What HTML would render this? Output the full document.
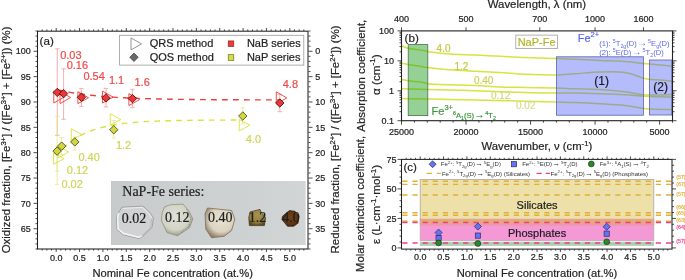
<!DOCTYPE html>
<html><head><meta charset="utf-8"><style>
html,body{margin:0;padding:0;background:#fff;width:685px;height:280px;overflow:hidden;}
svg{display:block;will-change:transform;font-family:"Liberation Sans",sans-serif;}
</style></head><body>
<svg xmlns="http://www.w3.org/2000/svg" width="685" height="280" viewBox="0 0 685 280">
<rect width="685" height="280" fill="#fff"/>
<rect x="111" y="181" width="194.5" height="64" fill="#cdd0d1"/>
<rect x="111" y="181" width="194.5" height="64" fill="url(#photoGrad)"/>
<defs><radialGradient id="g2" cx="0.45" cy="0.4" r="0.6"><stop offset="0" stop-color="#e0e1d8"/><stop offset="0.7" stop-color="#d3d4c6"/><stop offset="1" stop-color="#9c9a88"/></radialGradient><radialGradient id="g3" cx="0.55" cy="0.4" r="0.62"><stop offset="0" stop-color="#e8e2d2"/><stop offset="0.65" stop-color="#dcd4c0"/><stop offset="1" stop-color="#8e8068"/></radialGradient><radialGradient id="g4" cx="0.5" cy="0.35" r="0.65"><stop offset="0" stop-color="#a8924e"/><stop offset="0.7" stop-color="#937d3e"/><stop offset="1" stop-color="#5a4820"/></radialGradient><radialGradient id="g5" cx="0.5" cy="0.45" r="0.62"><stop offset="0" stop-color="#70421a"/><stop offset="0.7" stop-color="#5c3414"/><stop offset="1" stop-color="#331a08"/></radialGradient></defs>
<polygon points="122.1,207.2 143,206.1 149.4,212 153.4,217.7 152.1,227.3 142.2,237 138.9,238.6 122.9,234.6 117.2,229.7 116.4,217.7 118.8,212" fill="#d0d2d3" stroke="#8e9091" stroke-width="0.7"/>
<polyline points="118.6,213 117.6,218 118.2,229 123.5,233.4 138.6,237.2 141.6,236" fill="none" stroke="#f2f4f4" stroke-width="1.6" stroke-linejoin="round"/>
<polyline points="123,208.4 142.4,207.4 148.4,213 151.8,218" fill="none" stroke="#eceeee" stroke-width="1.0"/>
<polyline points="151.4,219 150.8,227 142,235.6" fill="none" stroke="#b4b6b7" stroke-width="0.9"/>
<polygon points="164.6,206.8 170.3,204.8 183.1,204.1 188.8,210.9 192.8,218.9 189.6,227.7 177.5,235.8 167,232.6 161.4,220.5 162.2,212.5" fill="url(#g2)" stroke="#8c8a72" stroke-width="0.7"/>
<polyline points="186.5,209 191,219 188.6,226.5 180,233" fill="none" stroke="#6e6a50" stroke-width="0.8" stroke-dasharray="1.5 1.2" opacity="0.7"/>
<polygon points="207.5,208 231.6,210.5 234.8,219.3 231.6,230.5 224.3,236.2 211.5,237.8 205.8,229 205,213.7" fill="url(#g3)" stroke="#7e705a" stroke-width="0.8"/>
<polygon points="250,211.9 260,209.4 261.25,212.5 265.6,217.5 264.4,225.6 249.4,225.6 248.75,217.5" fill="url(#g4)" stroke="#3e3018" stroke-width="0.7"/>
<polygon points="282.5,216.25 289.4,210.6 295,211.25 298.75,216.25 298.1,223.1 293.75,226.25 287.5,226.25 281.9,219.4" fill="url(#g5)" stroke="#2e1808" stroke-width="0.7"/>
<text x="122.3" y="195.7" font-family="Liberation Serif" font-size="14" fill="#1e1e1e" stroke="#1e1e1e" stroke-width="0.2" text-anchor="start" >NaP-Fe series:</text>
<text x="134.1" y="222.7" font-family="Liberation Serif" font-size="14" fill="#1e1e1e" stroke="#1e1e1e" stroke-width="0.2" text-anchor="middle" >0.02</text>
<text x="177.3" y="222.1" font-family="Liberation Serif" font-size="14" fill="#1e1e1e" stroke="#1e1e1e" stroke-width="0.2" text-anchor="middle" >0.12</text>
<text x="220.3" y="221.7" font-family="Liberation Serif" font-size="14" fill="#1e1e1e" stroke="#1e1e1e" stroke-width="0.2" text-anchor="middle" >0.40</text>
<text x="257.5" y="221.9" font-family="Liberation Serif" font-size="14" fill="#1e1e1e" stroke="#1e1e1e" stroke-width="0.2" text-anchor="middle" >1.2</text>
<text x="290.9" y="221.9" font-family="Liberation Serif" font-size="14" fill="#1e1e1e" stroke="#1e1e1e" stroke-width="0.2" text-anchor="middle" >4.0</text>
<rect x="119.6" y="35.3" width="184.2" height="29.8" fill="#fff" stroke="#9a9a9a" stroke-width="0.8"/>
<polygon points="131,37.9 141.5,43.9 131,49.9" fill="#fff" stroke="#8a8a8a" stroke-width="0.9"/>
<polygon points="134,53.1 138.2,57.3 134,61.5 129.8,57.3" fill="#6a6a6a" stroke="#444" stroke-width="0.8"/>
<text x="149.7" y="47.2" font-family="Liberation Sans" font-size="11" fill="#222" stroke="#222" stroke-width="0.2" text-anchor="start" >QRS method</text>
<text x="149.7" y="61.2" font-family="Liberation Sans" font-size="11" fill="#222" stroke="#222" stroke-width="0.2" text-anchor="start" >QOS method</text>
<rect x="228.2" y="40.9" width="5.6" height="5.7" fill="#ef3a3a" stroke="#7a2020" stroke-width="0.6"/>
<rect x="228.2" y="54.7" width="5.6" height="5.7" fill="#d6dc3a" stroke="#5a5a20" stroke-width="0.6"/>
<text x="246.9" y="47" font-family="Liberation Sans" font-size="11" fill="#222" stroke="#222" stroke-width="0.2" text-anchor="start" >NaB series</text>
<text x="246.9" y="61" font-family="Liberation Sans" font-size="11" fill="#222" stroke="#222" stroke-width="0.2" text-anchor="start" >NaP series</text>
<line x1="57.3" y1="48.8" x2="57.3" y2="135.3" stroke="#f59a9a" stroke-width="0.8" />
<line x1="55.1" y1="48.8" x2="59.5" y2="48.8" stroke="#f59a9a" stroke-width="0.8" />
<line x1="55.1" y1="135.3" x2="59.5" y2="135.3" stroke="#f59a9a" stroke-width="0.8" />
<line x1="63.6" y1="68.8" x2="63.6" y2="119.3" stroke="#f59a9a" stroke-width="0.8" />
<line x1="61.4" y1="68.8" x2="65.8" y2="68.8" stroke="#f59a9a" stroke-width="0.8" />
<line x1="61.4" y1="119.3" x2="65.8" y2="119.3" stroke="#f59a9a" stroke-width="0.8" />
<line x1="81.4" y1="88.6" x2="81.4" y2="106.4" stroke="#f59a9a" stroke-width="0.8" />
<line x1="79.2" y1="88.6" x2="83.6" y2="88.6" stroke="#f59a9a" stroke-width="0.8" />
<line x1="79.2" y1="106.4" x2="83.6" y2="106.4" stroke="#f59a9a" stroke-width="0.8" />
<line x1="106" y1="88.4" x2="106" y2="106.9" stroke="#f59a9a" stroke-width="0.8" />
<line x1="103.8" y1="88.4" x2="108.2" y2="88.4" stroke="#f59a9a" stroke-width="0.8" />
<line x1="103.8" y1="106.9" x2="108.2" y2="106.9" stroke="#f59a9a" stroke-width="0.8" />
<line x1="132.4" y1="89.3" x2="132.4" y2="107.6" stroke="#f59a9a" stroke-width="0.8" />
<line x1="130.2" y1="89.3" x2="134.6" y2="89.3" stroke="#f59a9a" stroke-width="0.8" />
<line x1="130.2" y1="107.6" x2="134.6" y2="107.6" stroke="#f59a9a" stroke-width="0.8" />
<line x1="279.8" y1="94.3" x2="279.8" y2="111.7" stroke="#f59a9a" stroke-width="0.8" />
<line x1="277.6" y1="94.3" x2="282" y2="94.3" stroke="#f59a9a" stroke-width="0.8" />
<line x1="277.6" y1="111.7" x2="282" y2="111.7" stroke="#f59a9a" stroke-width="0.8" />
<line x1="57.1" y1="116.4" x2="57.1" y2="184.6" stroke="#e4e88c" stroke-width="0.8" />
<line x1="54.9" y1="116.4" x2="59.3" y2="116.4" stroke="#e4e88c" stroke-width="0.8" />
<line x1="54.9" y1="184.6" x2="59.3" y2="184.6" stroke="#e4e88c" stroke-width="0.8" />
<line x1="57.1" y1="146" x2="57.1" y2="171.25" stroke="#e4e88c" stroke-width="0.8" />
<line x1="54.9" y1="146" x2="59.3" y2="146" stroke="#e4e88c" stroke-width="0.8" />
<line x1="54.9" y1="171.25" x2="59.3" y2="171.25" stroke="#e4e88c" stroke-width="0.8" />
<line x1="61.7" y1="137.6" x2="61.7" y2="154.6" stroke="#e4e88c" stroke-width="0.8" />
<line x1="59.5" y1="137.6" x2="63.9" y2="137.6" stroke="#e4e88c" stroke-width="0.8" />
<line x1="59.5" y1="154.6" x2="63.9" y2="154.6" stroke="#e4e88c" stroke-width="0.8" />
<line x1="74.8" y1="136.9" x2="74.8" y2="150" stroke="#e4e88c" stroke-width="0.8" />
<line x1="72.6" y1="136.9" x2="77" y2="136.9" stroke="#e4e88c" stroke-width="0.8" />
<line x1="72.6" y1="150" x2="77" y2="150" stroke="#e4e88c" stroke-width="0.8" />
<line x1="113.75" y1="120.6" x2="113.75" y2="138" stroke="#e4e88c" stroke-width="0.8" />
<line x1="111.55" y1="120.6" x2="115.95" y2="120.6" stroke="#e4e88c" stroke-width="0.8" />
<line x1="111.55" y1="138" x2="115.95" y2="138" stroke="#e4e88c" stroke-width="0.8" />
<line x1="242.8" y1="107.8" x2="242.8" y2="124" stroke="#e4e88c" stroke-width="0.8" />
<line x1="240.6" y1="107.8" x2="245" y2="107.8" stroke="#e4e88c" stroke-width="0.8" />
<line x1="240.6" y1="124" x2="245" y2="124" stroke="#e4e88c" stroke-width="0.8" />
<path d="M57.59,89.74 L60.38,90.39 L63.16,90.99 L65.95,91.55 L68.74,92.08 L71.52,92.57 L74.31,93.04 L77.09,93.47 L79.88,93.88 L82.66,94.26 L85.45,94.62 L88.24,94.96 L91.02,95.27 L93.81,95.56 L96.59,95.84 L99.38,96.1 L102.17,96.34 L104.95,96.57 L107.74,96.78 L110.52,96.98 L113.31,97.17 L116.1,97.34 L118.88,97.51 L121.67,97.66 L124.45,97.8 L127.24,97.94 L130.03,98.07 L132.81,98.18 L135.6,98.29 L138.38,98.4 L141.17,98.5 L143.96,98.59 L146.74,98.67 L149.53,98.75 L152.31,98.83 L155.1,98.9 L157.88,98.97 L160.67,99.03 L163.46,99.09 L166.24,99.14 L169.03,99.19 L171.81,99.24 L174.6,99.28 L177.39,99.32 L180.17,99.36 L182.96,99.4 L185.74,99.44 L188.53,99.47 L191.32,99.5 L194.1,99.53 L196.89,99.55 L199.67,99.58 L202.46,99.6 L205.25,99.62 L208.03,99.64 L210.82,99.66 L213.6,99.68 L216.39,99.7 L219.18,99.71 L221.96,99.73 L224.75,99.74 L227.53,99.76 L230.32,99.77 L233.1,99.78 L235.89,99.79 L238.68,99.8 L241.46,99.81 L244.25,99.82 L247.03,99.83 L249.82,99.83 L252.61,99.84 L255.39,99.85 L258.18,99.85 L260.96,99.86 L263.75,99.87 L266.54,99.87 L269.32,99.88 L272.11,99.88 L274.89,99.88 L277.68,99.89 L280.47,99.89" fill="none" stroke="#f03c3c" stroke-width="1.4" stroke-dasharray="5.8 5.2"/>
<path d="M57.12,154.64 L59.45,151.99 L61.77,149.54 L64.1,147.28 L66.42,145.19 L68.75,143.26 L71.07,141.48 L73.4,139.83 L75.72,138.31 L78.04,136.91 L80.37,135.61 L82.69,134.42 L85.02,133.31 L87.34,132.29 L89.67,131.35 L91.99,130.48 L94.32,129.67 L96.64,128.93 L98.97,128.25 L101.29,127.61 L103.61,127.03 L105.94,126.49 L108.26,125.99 L110.59,125.53 L112.91,125.11 L115.24,124.71 L117.56,124.35 L119.89,124.02 L122.21,123.71 L124.54,123.42 L126.86,123.16 L129.18,122.91 L131.51,122.69 L133.83,122.48 L136.16,122.29 L138.48,122.11 L140.81,121.95 L143.13,121.8 L145.46,121.66 L147.78,121.53 L150.11,121.41 L152.43,121.3 L154.75,121.2 L157.08,121.11 L159.4,121.02 L161.73,120.94 L164.05,120.87 L166.38,120.8 L168.7,120.73 L171.03,120.68 L173.35,120.62 L175.67,120.57 L178,120.53 L180.32,120.48 L182.65,120.45 L184.97,120.41 L187.3,120.38 L189.62,120.35 L191.95,120.32 L194.27,120.29 L196.6,120.27 L198.92,120.24 L201.24,120.22 L203.57,120.2 L205.89,120.19 L208.22,120.17 L210.54,120.16 L212.87,120.14 L215.19,120.13 L217.52,120.12 L219.84,120.11 L222.17,120.1 L224.49,120.09 L226.81,120.08 L229.14,120.07 L231.46,120.06 L233.79,120.06 L236.11,120.05 L238.44,120.04 L240.76,120.04 L243.09,120.03" fill="none" stroke="#d9e23c" stroke-width="1.4" stroke-dasharray="5.6 5.3" stroke-dashoffset="2.7"/>
<polygon points="53.77,91 64.37,97 53.77,103" fill="none" stroke="#f03c3c" stroke-width="0.9"/>
<polygon points="60.07,91.5 70.67,97.5 60.07,103.5" fill="none" stroke="#f03c3c" stroke-width="0.9"/>
<polygon points="77.87,91.7 88.47,97.7 77.87,103.7" fill="none" stroke="#f03c3c" stroke-width="0.9"/>
<polygon points="102.47,91.1 113.07,97.1 102.47,103.1" fill="none" stroke="#f03c3c" stroke-width="0.9"/>
<polygon points="128.87,93.6 139.47,99.6 128.87,105.6" fill="none" stroke="#f03c3c" stroke-width="0.9"/>
<polygon points="276.27,91.9 286.87,97.9 276.27,103.9" fill="none" stroke="#f03c3c" stroke-width="0.9"/>
<polygon points="53.57,152.85 64.17,158.6 53.57,164.35" fill="none" stroke="#d9e23c" stroke-width="0.9"/>
<polygon points="58.17,146.25 68.77,152 58.17,157.75" fill="none" stroke="#d9e23c" stroke-width="0.9"/>
<polygon points="71.27,128.75 81.87,134.5 71.27,140.25" fill="none" stroke="#d9e23c" stroke-width="0.9"/>
<polygon points="110.22,113.75 120.82,119.5 110.22,125.25" fill="none" stroke="#d9e23c" stroke-width="0.9"/>
<polygon points="239.27,119.45 249.87,125.2 239.27,130.95" fill="none" stroke="#d9e23c" stroke-width="0.9"/>
<polygon points="57.3,88.2 61.5,92.4 57.3,96.6 53.1,92.4" fill="#ee3434" stroke="#3a0d0d" stroke-width="0.8"/>
<polygon points="63.6,89.4 67.8,93.6 63.6,97.8 59.4,93.6" fill="#ee3434" stroke="#3a0d0d" stroke-width="0.8"/>
<polygon points="81.4,93.1 85.6,97.3 81.4,101.5 77.2,97.3" fill="#ee3434" stroke="#3a0d0d" stroke-width="0.8"/>
<polygon points="106,93.7 110.2,97.9 106,102.1 101.8,97.9" fill="#ee3434" stroke="#3a0d0d" stroke-width="0.8"/>
<polygon points="132.4,94.4 136.6,98.6 132.4,102.8 128.2,98.6" fill="#ee3434" stroke="#3a0d0d" stroke-width="0.8"/>
<polygon points="279.8,98.8 284,103 279.8,107.2 275.6,103" fill="#ee3434" stroke="#3a0d0d" stroke-width="0.8"/>
<polygon points="57.1,146.9 61.3,151.1 57.1,155.3 52.9,151.1" fill="#d2d83c" stroke="#3a3a18" stroke-width="0.8"/>
<polygon points="61.7,141.9 65.9,146.1 61.7,150.3 57.5,146.1" fill="#d2d83c" stroke="#3a3a18" stroke-width="0.8"/>
<polygon points="74.8,137.7 79,141.9 74.8,146.1 70.6,141.9" fill="#d2d83c" stroke="#3a3a18" stroke-width="0.8"/>
<polygon points="113.75,125.55 117.95,129.75 113.75,133.95 109.55,129.75" fill="#d2d83c" stroke="#3a3a18" stroke-width="0.8"/>
<polygon points="242.8,111.8 247,116 242.8,120.2 238.6,116" fill="#d2d83c" stroke="#3a3a18" stroke-width="0.8"/>
<text x="60.2" y="58.6" font-family="Liberation Sans" font-size="11" fill="#f04848" stroke="#f04848" stroke-width="0.2" text-anchor="start" >0.03</text>
<text x="66.7" y="69" font-family="Liberation Sans" font-size="11" fill="#f04848" stroke="#f04848" stroke-width="0.2" text-anchor="start" >0.16</text>
<text x="83.4" y="79.8" font-family="Liberation Sans" font-size="11" fill="#f04848" stroke="#f04848" stroke-width="0.2" text-anchor="start" >0.54</text>
<text x="108.9" y="84" font-family="Liberation Sans" font-size="11" fill="#f04848" stroke="#f04848" stroke-width="0.2" text-anchor="start" >1.1</text>
<text x="134.5" y="85.5" font-family="Liberation Sans" font-size="11" fill="#f04848" stroke="#f04848" stroke-width="0.2" text-anchor="start" >1.6</text>
<text x="290.4" y="88" font-family="Liberation Sans" font-size="11" fill="#f04848" stroke="#f04848" stroke-width="0.2" text-anchor="middle" >4.8</text>
<text x="61.4" y="187.9" font-family="Liberation Sans" font-size="11" fill="#cfd456" stroke="#cfd456" stroke-width="0.2" text-anchor="start" >0.02</text>
<text x="66.8" y="174.1" font-family="Liberation Sans" font-size="11" fill="#cfd456" stroke="#cfd456" stroke-width="0.2" text-anchor="start" >0.12</text>
<text x="78.4" y="161.1" font-family="Liberation Sans" font-size="11" fill="#cfd456" stroke="#cfd456" stroke-width="0.2" text-anchor="start" >0.40</text>
<text x="123.6" y="148.6" font-family="Liberation Sans" font-size="11" fill="#cfd456" stroke="#cfd456" stroke-width="0.2" text-anchor="middle" >1.2</text>
<text x="253.4" y="142.7" font-family="Liberation Sans" font-size="11" fill="#cfd456" stroke="#cfd456" stroke-width="0.2" text-anchor="middle" >4.0</text>
<text x="39.6" y="45.1" font-family="Liberation Sans" font-size="11.6" fill="#222" stroke="#222" stroke-width="0.2" text-anchor="start" >(a)</text>
<rect x="37.5" y="31.2" width="270.5" height="217.8" fill="none" stroke="#222" stroke-width="1.05"/>
<line x1="42.17" y1="249" x2="42.17" y2="250.6" stroke="#222" stroke-width="0.8" />
<line x1="42.17" y1="31" x2="42.17" y2="29.4" stroke="#222" stroke-width="0.8" />
<line x1="46.84" y1="249" x2="46.84" y2="250.6" stroke="#222" stroke-width="0.8" />
<line x1="46.84" y1="31" x2="46.84" y2="29.4" stroke="#222" stroke-width="0.8" />
<line x1="51.52" y1="249" x2="51.52" y2="250.6" stroke="#222" stroke-width="0.8" />
<line x1="51.52" y1="31" x2="51.52" y2="29.4" stroke="#222" stroke-width="0.8" />
<line x1="56.19" y1="249" x2="56.19" y2="252" stroke="#222" stroke-width="0.8" />
<line x1="56.19" y1="31" x2="56.19" y2="28" stroke="#222" stroke-width="0.8" />
<text x="56.19" y="260.7" font-family="Liberation Sans" font-size="9" fill="#222" stroke="#222" stroke-width="0.2" text-anchor="middle" >0.0</text>
<line x1="60.86" y1="249" x2="60.86" y2="250.6" stroke="#222" stroke-width="0.8" />
<line x1="60.86" y1="31" x2="60.86" y2="29.4" stroke="#222" stroke-width="0.8" />
<line x1="65.53" y1="249" x2="65.53" y2="250.6" stroke="#222" stroke-width="0.8" />
<line x1="65.53" y1="31" x2="65.53" y2="29.4" stroke="#222" stroke-width="0.8" />
<line x1="70.21" y1="249" x2="70.21" y2="250.6" stroke="#222" stroke-width="0.8" />
<line x1="70.21" y1="31" x2="70.21" y2="29.4" stroke="#222" stroke-width="0.8" />
<line x1="74.88" y1="249" x2="74.88" y2="250.6" stroke="#222" stroke-width="0.8" />
<line x1="74.88" y1="31" x2="74.88" y2="29.4" stroke="#222" stroke-width="0.8" />
<line x1="79.55" y1="249" x2="79.55" y2="252" stroke="#222" stroke-width="0.8" />
<line x1="79.55" y1="31" x2="79.55" y2="28" stroke="#222" stroke-width="0.8" />
<text x="79.55" y="260.7" font-family="Liberation Sans" font-size="9" fill="#222" stroke="#222" stroke-width="0.2" text-anchor="middle" >0.5</text>
<line x1="84.22" y1="249" x2="84.22" y2="250.6" stroke="#222" stroke-width="0.8" />
<line x1="84.22" y1="31" x2="84.22" y2="29.4" stroke="#222" stroke-width="0.8" />
<line x1="88.9" y1="249" x2="88.9" y2="250.6" stroke="#222" stroke-width="0.8" />
<line x1="88.9" y1="31" x2="88.9" y2="29.4" stroke="#222" stroke-width="0.8" />
<line x1="93.57" y1="249" x2="93.57" y2="250.6" stroke="#222" stroke-width="0.8" />
<line x1="93.57" y1="31" x2="93.57" y2="29.4" stroke="#222" stroke-width="0.8" />
<line x1="98.24" y1="249" x2="98.24" y2="250.6" stroke="#222" stroke-width="0.8" />
<line x1="98.24" y1="31" x2="98.24" y2="29.4" stroke="#222" stroke-width="0.8" />
<line x1="102.91" y1="249" x2="102.91" y2="252" stroke="#222" stroke-width="0.8" />
<line x1="102.91" y1="31" x2="102.91" y2="28" stroke="#222" stroke-width="0.8" />
<text x="102.91" y="260.7" font-family="Liberation Sans" font-size="9" fill="#222" stroke="#222" stroke-width="0.2" text-anchor="middle" >1.0</text>
<line x1="107.59" y1="249" x2="107.59" y2="250.6" stroke="#222" stroke-width="0.8" />
<line x1="107.59" y1="31" x2="107.59" y2="29.4" stroke="#222" stroke-width="0.8" />
<line x1="112.26" y1="249" x2="112.26" y2="250.6" stroke="#222" stroke-width="0.8" />
<line x1="112.26" y1="31" x2="112.26" y2="29.4" stroke="#222" stroke-width="0.8" />
<line x1="116.93" y1="249" x2="116.93" y2="250.6" stroke="#222" stroke-width="0.8" />
<line x1="116.93" y1="31" x2="116.93" y2="29.4" stroke="#222" stroke-width="0.8" />
<line x1="121.6" y1="249" x2="121.6" y2="250.6" stroke="#222" stroke-width="0.8" />
<line x1="121.6" y1="31" x2="121.6" y2="29.4" stroke="#222" stroke-width="0.8" />
<line x1="126.28" y1="249" x2="126.28" y2="252" stroke="#222" stroke-width="0.8" />
<line x1="126.28" y1="31" x2="126.28" y2="28" stroke="#222" stroke-width="0.8" />
<text x="126.28" y="260.7" font-family="Liberation Sans" font-size="9" fill="#222" stroke="#222" stroke-width="0.2" text-anchor="middle" >1.5</text>
<line x1="130.95" y1="249" x2="130.95" y2="250.6" stroke="#222" stroke-width="0.8" />
<line x1="130.95" y1="31" x2="130.95" y2="29.4" stroke="#222" stroke-width="0.8" />
<line x1="135.62" y1="249" x2="135.62" y2="250.6" stroke="#222" stroke-width="0.8" />
<line x1="135.62" y1="31" x2="135.62" y2="29.4" stroke="#222" stroke-width="0.8" />
<line x1="140.29" y1="249" x2="140.29" y2="250.6" stroke="#222" stroke-width="0.8" />
<line x1="140.29" y1="31" x2="140.29" y2="29.4" stroke="#222" stroke-width="0.8" />
<line x1="144.97" y1="249" x2="144.97" y2="250.6" stroke="#222" stroke-width="0.8" />
<line x1="144.97" y1="31" x2="144.97" y2="29.4" stroke="#222" stroke-width="0.8" />
<line x1="149.64" y1="249" x2="149.64" y2="252" stroke="#222" stroke-width="0.8" />
<line x1="149.64" y1="31" x2="149.64" y2="28" stroke="#222" stroke-width="0.8" />
<text x="149.64" y="260.7" font-family="Liberation Sans" font-size="9" fill="#222" stroke="#222" stroke-width="0.2" text-anchor="middle" >2.0</text>
<line x1="154.31" y1="249" x2="154.31" y2="250.6" stroke="#222" stroke-width="0.8" />
<line x1="154.31" y1="31" x2="154.31" y2="29.4" stroke="#222" stroke-width="0.8" />
<line x1="158.98" y1="249" x2="158.98" y2="250.6" stroke="#222" stroke-width="0.8" />
<line x1="158.98" y1="31" x2="158.98" y2="29.4" stroke="#222" stroke-width="0.8" />
<line x1="163.66" y1="249" x2="163.66" y2="250.6" stroke="#222" stroke-width="0.8" />
<line x1="163.66" y1="31" x2="163.66" y2="29.4" stroke="#222" stroke-width="0.8" />
<line x1="168.33" y1="249" x2="168.33" y2="250.6" stroke="#222" stroke-width="0.8" />
<line x1="168.33" y1="31" x2="168.33" y2="29.4" stroke="#222" stroke-width="0.8" />
<line x1="173" y1="249" x2="173" y2="252" stroke="#222" stroke-width="0.8" />
<line x1="173" y1="31" x2="173" y2="28" stroke="#222" stroke-width="0.8" />
<text x="173" y="260.7" font-family="Liberation Sans" font-size="9" fill="#222" stroke="#222" stroke-width="0.2" text-anchor="middle" >2.5</text>
<line x1="177.67" y1="249" x2="177.67" y2="250.6" stroke="#222" stroke-width="0.8" />
<line x1="177.67" y1="31" x2="177.67" y2="29.4" stroke="#222" stroke-width="0.8" />
<line x1="182.34" y1="249" x2="182.34" y2="250.6" stroke="#222" stroke-width="0.8" />
<line x1="182.34" y1="31" x2="182.34" y2="29.4" stroke="#222" stroke-width="0.8" />
<line x1="187.02" y1="249" x2="187.02" y2="250.6" stroke="#222" stroke-width="0.8" />
<line x1="187.02" y1="31" x2="187.02" y2="29.4" stroke="#222" stroke-width="0.8" />
<line x1="191.69" y1="249" x2="191.69" y2="250.6" stroke="#222" stroke-width="0.8" />
<line x1="191.69" y1="31" x2="191.69" y2="29.4" stroke="#222" stroke-width="0.8" />
<line x1="196.36" y1="249" x2="196.36" y2="252" stroke="#222" stroke-width="0.8" />
<line x1="196.36" y1="31" x2="196.36" y2="28" stroke="#222" stroke-width="0.8" />
<text x="196.36" y="260.7" font-family="Liberation Sans" font-size="9" fill="#222" stroke="#222" stroke-width="0.2" text-anchor="middle" >3.0</text>
<line x1="201.03" y1="249" x2="201.03" y2="250.6" stroke="#222" stroke-width="0.8" />
<line x1="201.03" y1="31" x2="201.03" y2="29.4" stroke="#222" stroke-width="0.8" />
<line x1="205.71" y1="249" x2="205.71" y2="250.6" stroke="#222" stroke-width="0.8" />
<line x1="205.71" y1="31" x2="205.71" y2="29.4" stroke="#222" stroke-width="0.8" />
<line x1="210.38" y1="249" x2="210.38" y2="250.6" stroke="#222" stroke-width="0.8" />
<line x1="210.38" y1="31" x2="210.38" y2="29.4" stroke="#222" stroke-width="0.8" />
<line x1="215.05" y1="249" x2="215.05" y2="250.6" stroke="#222" stroke-width="0.8" />
<line x1="215.05" y1="31" x2="215.05" y2="29.4" stroke="#222" stroke-width="0.8" />
<line x1="219.72" y1="249" x2="219.72" y2="252" stroke="#222" stroke-width="0.8" />
<line x1="219.72" y1="31" x2="219.72" y2="28" stroke="#222" stroke-width="0.8" />
<text x="219.72" y="260.7" font-family="Liberation Sans" font-size="9" fill="#222" stroke="#222" stroke-width="0.2" text-anchor="middle" >3.5</text>
<line x1="224.4" y1="249" x2="224.4" y2="250.6" stroke="#222" stroke-width="0.8" />
<line x1="224.4" y1="31" x2="224.4" y2="29.4" stroke="#222" stroke-width="0.8" />
<line x1="229.07" y1="249" x2="229.07" y2="250.6" stroke="#222" stroke-width="0.8" />
<line x1="229.07" y1="31" x2="229.07" y2="29.4" stroke="#222" stroke-width="0.8" />
<line x1="233.74" y1="249" x2="233.74" y2="250.6" stroke="#222" stroke-width="0.8" />
<line x1="233.74" y1="31" x2="233.74" y2="29.4" stroke="#222" stroke-width="0.8" />
<line x1="238.41" y1="249" x2="238.41" y2="250.6" stroke="#222" stroke-width="0.8" />
<line x1="238.41" y1="31" x2="238.41" y2="29.4" stroke="#222" stroke-width="0.8" />
<line x1="243.09" y1="249" x2="243.09" y2="252" stroke="#222" stroke-width="0.8" />
<line x1="243.09" y1="31" x2="243.09" y2="28" stroke="#222" stroke-width="0.8" />
<text x="243.09" y="260.7" font-family="Liberation Sans" font-size="9" fill="#222" stroke="#222" stroke-width="0.2" text-anchor="middle" >4.0</text>
<line x1="247.76" y1="249" x2="247.76" y2="250.6" stroke="#222" stroke-width="0.8" />
<line x1="247.76" y1="31" x2="247.76" y2="29.4" stroke="#222" stroke-width="0.8" />
<line x1="252.43" y1="249" x2="252.43" y2="250.6" stroke="#222" stroke-width="0.8" />
<line x1="252.43" y1="31" x2="252.43" y2="29.4" stroke="#222" stroke-width="0.8" />
<line x1="257.1" y1="249" x2="257.1" y2="250.6" stroke="#222" stroke-width="0.8" />
<line x1="257.1" y1="31" x2="257.1" y2="29.4" stroke="#222" stroke-width="0.8" />
<line x1="261.78" y1="249" x2="261.78" y2="250.6" stroke="#222" stroke-width="0.8" />
<line x1="261.78" y1="31" x2="261.78" y2="29.4" stroke="#222" stroke-width="0.8" />
<line x1="266.45" y1="249" x2="266.45" y2="252" stroke="#222" stroke-width="0.8" />
<line x1="266.45" y1="31" x2="266.45" y2="28" stroke="#222" stroke-width="0.8" />
<text x="266.45" y="260.7" font-family="Liberation Sans" font-size="9" fill="#222" stroke="#222" stroke-width="0.2" text-anchor="middle" >4.5</text>
<line x1="271.12" y1="249" x2="271.12" y2="250.6" stroke="#222" stroke-width="0.8" />
<line x1="271.12" y1="31" x2="271.12" y2="29.4" stroke="#222" stroke-width="0.8" />
<line x1="275.79" y1="249" x2="275.79" y2="250.6" stroke="#222" stroke-width="0.8" />
<line x1="275.79" y1="31" x2="275.79" y2="29.4" stroke="#222" stroke-width="0.8" />
<line x1="280.47" y1="249" x2="280.47" y2="250.6" stroke="#222" stroke-width="0.8" />
<line x1="280.47" y1="31" x2="280.47" y2="29.4" stroke="#222" stroke-width="0.8" />
<line x1="285.14" y1="249" x2="285.14" y2="250.6" stroke="#222" stroke-width="0.8" />
<line x1="285.14" y1="31" x2="285.14" y2="29.4" stroke="#222" stroke-width="0.8" />
<line x1="289.81" y1="249" x2="289.81" y2="252" stroke="#222" stroke-width="0.8" />
<line x1="289.81" y1="31" x2="289.81" y2="28" stroke="#222" stroke-width="0.8" />
<text x="289.81" y="260.7" font-family="Liberation Sans" font-size="9" fill="#222" stroke="#222" stroke-width="0.2" text-anchor="middle" >5.0</text>
<line x1="294.48" y1="249" x2="294.48" y2="250.6" stroke="#222" stroke-width="0.8" />
<line x1="294.48" y1="31" x2="294.48" y2="29.4" stroke="#222" stroke-width="0.8" />
<line x1="299.16" y1="249" x2="299.16" y2="250.6" stroke="#222" stroke-width="0.8" />
<line x1="299.16" y1="31" x2="299.16" y2="29.4" stroke="#222" stroke-width="0.8" />
<line x1="303.83" y1="249" x2="303.83" y2="250.6" stroke="#222" stroke-width="0.8" />
<line x1="303.83" y1="31" x2="303.83" y2="29.4" stroke="#222" stroke-width="0.8" />
<line x1="37.5" y1="249" x2="35.5" y2="249" stroke="#222" stroke-width="0.8" />
<line x1="308.5" y1="249" x2="310.5" y2="249" stroke="#222" stroke-width="0.8" />
<line x1="37.5" y1="243.93" x2="35.5" y2="243.93" stroke="#222" stroke-width="0.8" />
<line x1="308.5" y1="243.93" x2="310.5" y2="243.93" stroke="#222" stroke-width="0.8" />
<line x1="37.5" y1="238.86" x2="35.5" y2="238.86" stroke="#222" stroke-width="0.8" />
<line x1="308.5" y1="238.86" x2="310.5" y2="238.86" stroke="#222" stroke-width="0.8" />
<line x1="37.5" y1="233.79" x2="35.5" y2="233.79" stroke="#222" stroke-width="0.8" />
<line x1="308.5" y1="233.79" x2="310.5" y2="233.79" stroke="#222" stroke-width="0.8" />
<line x1="37.5" y1="228.72" x2="33.5" y2="228.72" stroke="#222" stroke-width="0.8" />
<line x1="308.5" y1="228.72" x2="312.5" y2="228.72" stroke="#222" stroke-width="0.8" />
<text x="30.8" y="231.92" font-family="Liberation Sans" font-size="9" fill="#222" stroke="#222" stroke-width="0.2" text-anchor="end" >65</text>
<text x="315.3" y="231.92" font-family="Liberation Sans" font-size="9" fill="#222" stroke="#222" stroke-width="0.2" text-anchor="start" >35</text>
<line x1="37.5" y1="223.65" x2="35.5" y2="223.65" stroke="#222" stroke-width="0.8" />
<line x1="308.5" y1="223.65" x2="310.5" y2="223.65" stroke="#222" stroke-width="0.8" />
<line x1="37.5" y1="218.58" x2="35.5" y2="218.58" stroke="#222" stroke-width="0.8" />
<line x1="308.5" y1="218.58" x2="310.5" y2="218.58" stroke="#222" stroke-width="0.8" />
<line x1="37.5" y1="213.51" x2="35.5" y2="213.51" stroke="#222" stroke-width="0.8" />
<line x1="308.5" y1="213.51" x2="310.5" y2="213.51" stroke="#222" stroke-width="0.8" />
<line x1="37.5" y1="208.44" x2="35.5" y2="208.44" stroke="#222" stroke-width="0.8" />
<line x1="308.5" y1="208.44" x2="310.5" y2="208.44" stroke="#222" stroke-width="0.8" />
<line x1="37.5" y1="203.37" x2="33.5" y2="203.37" stroke="#222" stroke-width="0.8" />
<line x1="308.5" y1="203.37" x2="312.5" y2="203.37" stroke="#222" stroke-width="0.8" />
<text x="30.8" y="206.57" font-family="Liberation Sans" font-size="9" fill="#222" stroke="#222" stroke-width="0.2" text-anchor="end" >70</text>
<text x="315.3" y="206.57" font-family="Liberation Sans" font-size="9" fill="#222" stroke="#222" stroke-width="0.2" text-anchor="start" >30</text>
<line x1="37.5" y1="198.3" x2="35.5" y2="198.3" stroke="#222" stroke-width="0.8" />
<line x1="308.5" y1="198.3" x2="310.5" y2="198.3" stroke="#222" stroke-width="0.8" />
<line x1="37.5" y1="193.23" x2="35.5" y2="193.23" stroke="#222" stroke-width="0.8" />
<line x1="308.5" y1="193.23" x2="310.5" y2="193.23" stroke="#222" stroke-width="0.8" />
<line x1="37.5" y1="188.16" x2="35.5" y2="188.16" stroke="#222" stroke-width="0.8" />
<line x1="308.5" y1="188.16" x2="310.5" y2="188.16" stroke="#222" stroke-width="0.8" />
<line x1="37.5" y1="183.09" x2="35.5" y2="183.09" stroke="#222" stroke-width="0.8" />
<line x1="308.5" y1="183.09" x2="310.5" y2="183.09" stroke="#222" stroke-width="0.8" />
<line x1="37.5" y1="178.02" x2="33.5" y2="178.02" stroke="#222" stroke-width="0.8" />
<line x1="308.5" y1="178.02" x2="312.5" y2="178.02" stroke="#222" stroke-width="0.8" />
<text x="30.8" y="181.22" font-family="Liberation Sans" font-size="9" fill="#222" stroke="#222" stroke-width="0.2" text-anchor="end" >75</text>
<text x="315.3" y="181.22" font-family="Liberation Sans" font-size="9" fill="#222" stroke="#222" stroke-width="0.2" text-anchor="start" >25</text>
<line x1="37.5" y1="172.95" x2="35.5" y2="172.95" stroke="#222" stroke-width="0.8" />
<line x1="308.5" y1="172.95" x2="310.5" y2="172.95" stroke="#222" stroke-width="0.8" />
<line x1="37.5" y1="167.88" x2="35.5" y2="167.88" stroke="#222" stroke-width="0.8" />
<line x1="308.5" y1="167.88" x2="310.5" y2="167.88" stroke="#222" stroke-width="0.8" />
<line x1="37.5" y1="162.81" x2="35.5" y2="162.81" stroke="#222" stroke-width="0.8" />
<line x1="308.5" y1="162.81" x2="310.5" y2="162.81" stroke="#222" stroke-width="0.8" />
<line x1="37.5" y1="157.74" x2="35.5" y2="157.74" stroke="#222" stroke-width="0.8" />
<line x1="308.5" y1="157.74" x2="310.5" y2="157.74" stroke="#222" stroke-width="0.8" />
<line x1="37.5" y1="152.67" x2="33.5" y2="152.67" stroke="#222" stroke-width="0.8" />
<line x1="308.5" y1="152.67" x2="312.5" y2="152.67" stroke="#222" stroke-width="0.8" />
<text x="30.8" y="155.87" font-family="Liberation Sans" font-size="9" fill="#222" stroke="#222" stroke-width="0.2" text-anchor="end" >80</text>
<text x="315.3" y="155.87" font-family="Liberation Sans" font-size="9" fill="#222" stroke="#222" stroke-width="0.2" text-anchor="start" >20</text>
<line x1="37.5" y1="147.6" x2="35.5" y2="147.6" stroke="#222" stroke-width="0.8" />
<line x1="308.5" y1="147.6" x2="310.5" y2="147.6" stroke="#222" stroke-width="0.8" />
<line x1="37.5" y1="142.53" x2="35.5" y2="142.53" stroke="#222" stroke-width="0.8" />
<line x1="308.5" y1="142.53" x2="310.5" y2="142.53" stroke="#222" stroke-width="0.8" />
<line x1="37.5" y1="137.47" x2="35.5" y2="137.47" stroke="#222" stroke-width="0.8" />
<line x1="308.5" y1="137.47" x2="310.5" y2="137.47" stroke="#222" stroke-width="0.8" />
<line x1="37.5" y1="132.4" x2="35.5" y2="132.4" stroke="#222" stroke-width="0.8" />
<line x1="308.5" y1="132.4" x2="310.5" y2="132.4" stroke="#222" stroke-width="0.8" />
<line x1="37.5" y1="127.33" x2="33.5" y2="127.33" stroke="#222" stroke-width="0.8" />
<line x1="308.5" y1="127.33" x2="312.5" y2="127.33" stroke="#222" stroke-width="0.8" />
<text x="30.8" y="130.53" font-family="Liberation Sans" font-size="9" fill="#222" stroke="#222" stroke-width="0.2" text-anchor="end" >85</text>
<text x="315.3" y="130.53" font-family="Liberation Sans" font-size="9" fill="#222" stroke="#222" stroke-width="0.2" text-anchor="start" >15</text>
<line x1="37.5" y1="122.26" x2="35.5" y2="122.26" stroke="#222" stroke-width="0.8" />
<line x1="308.5" y1="122.26" x2="310.5" y2="122.26" stroke="#222" stroke-width="0.8" />
<line x1="37.5" y1="117.19" x2="35.5" y2="117.19" stroke="#222" stroke-width="0.8" />
<line x1="308.5" y1="117.19" x2="310.5" y2="117.19" stroke="#222" stroke-width="0.8" />
<line x1="37.5" y1="112.12" x2="35.5" y2="112.12" stroke="#222" stroke-width="0.8" />
<line x1="308.5" y1="112.12" x2="310.5" y2="112.12" stroke="#222" stroke-width="0.8" />
<line x1="37.5" y1="107.05" x2="35.5" y2="107.05" stroke="#222" stroke-width="0.8" />
<line x1="308.5" y1="107.05" x2="310.5" y2="107.05" stroke="#222" stroke-width="0.8" />
<line x1="37.5" y1="101.98" x2="33.5" y2="101.98" stroke="#222" stroke-width="0.8" />
<line x1="308.5" y1="101.98" x2="312.5" y2="101.98" stroke="#222" stroke-width="0.8" />
<text x="30.8" y="105.18" font-family="Liberation Sans" font-size="9" fill="#222" stroke="#222" stroke-width="0.2" text-anchor="end" >90</text>
<text x="315.3" y="105.18" font-family="Liberation Sans" font-size="9" fill="#222" stroke="#222" stroke-width="0.2" text-anchor="start" >10</text>
<line x1="37.5" y1="96.91" x2="35.5" y2="96.91" stroke="#222" stroke-width="0.8" />
<line x1="308.5" y1="96.91" x2="310.5" y2="96.91" stroke="#222" stroke-width="0.8" />
<line x1="37.5" y1="91.84" x2="35.5" y2="91.84" stroke="#222" stroke-width="0.8" />
<line x1="308.5" y1="91.84" x2="310.5" y2="91.84" stroke="#222" stroke-width="0.8" />
<line x1="37.5" y1="86.77" x2="35.5" y2="86.77" stroke="#222" stroke-width="0.8" />
<line x1="308.5" y1="86.77" x2="310.5" y2="86.77" stroke="#222" stroke-width="0.8" />
<line x1="37.5" y1="81.7" x2="35.5" y2="81.7" stroke="#222" stroke-width="0.8" />
<line x1="308.5" y1="81.7" x2="310.5" y2="81.7" stroke="#222" stroke-width="0.8" />
<line x1="37.5" y1="76.63" x2="33.5" y2="76.63" stroke="#222" stroke-width="0.8" />
<line x1="308.5" y1="76.63" x2="312.5" y2="76.63" stroke="#222" stroke-width="0.8" />
<text x="30.8" y="79.83" font-family="Liberation Sans" font-size="9" fill="#222" stroke="#222" stroke-width="0.2" text-anchor="end" >95</text>
<text x="315.3" y="79.83" font-family="Liberation Sans" font-size="9" fill="#222" stroke="#222" stroke-width="0.2" text-anchor="start" >5</text>
<line x1="37.5" y1="71.56" x2="35.5" y2="71.56" stroke="#222" stroke-width="0.8" />
<line x1="308.5" y1="71.56" x2="310.5" y2="71.56" stroke="#222" stroke-width="0.8" />
<line x1="37.5" y1="66.49" x2="35.5" y2="66.49" stroke="#222" stroke-width="0.8" />
<line x1="308.5" y1="66.49" x2="310.5" y2="66.49" stroke="#222" stroke-width="0.8" />
<line x1="37.5" y1="61.42" x2="35.5" y2="61.42" stroke="#222" stroke-width="0.8" />
<line x1="308.5" y1="61.42" x2="310.5" y2="61.42" stroke="#222" stroke-width="0.8" />
<line x1="37.5" y1="56.35" x2="35.5" y2="56.35" stroke="#222" stroke-width="0.8" />
<line x1="308.5" y1="56.35" x2="310.5" y2="56.35" stroke="#222" stroke-width="0.8" />
<line x1="37.5" y1="51.28" x2="33.5" y2="51.28" stroke="#222" stroke-width="0.8" />
<line x1="308.5" y1="51.28" x2="312.5" y2="51.28" stroke="#222" stroke-width="0.8" />
<text x="30.8" y="54.48" font-family="Liberation Sans" font-size="9" fill="#222" stroke="#222" stroke-width="0.2" text-anchor="end" >100</text>
<text x="315.3" y="54.48" font-family="Liberation Sans" font-size="9" fill="#222" stroke="#222" stroke-width="0.2" text-anchor="start" >0</text>
<line x1="37.5" y1="46.21" x2="35.5" y2="46.21" stroke="#222" stroke-width="0.8" />
<line x1="308.5" y1="46.21" x2="310.5" y2="46.21" stroke="#222" stroke-width="0.8" />
<line x1="37.5" y1="41.14" x2="35.5" y2="41.14" stroke="#222" stroke-width="0.8" />
<line x1="308.5" y1="41.14" x2="310.5" y2="41.14" stroke="#222" stroke-width="0.8" />
<line x1="37.5" y1="36.07" x2="35.5" y2="36.07" stroke="#222" stroke-width="0.8" />
<line x1="308.5" y1="36.07" x2="310.5" y2="36.07" stroke="#222" stroke-width="0.8" />
<line x1="37.5" y1="31" x2="35.5" y2="31" stroke="#222" stroke-width="0.8" />
<line x1="308.5" y1="31" x2="310.5" y2="31" stroke="#222" stroke-width="0.8" />
<text x="172.7" y="276.9" font-family="Liberation Sans" font-size="11.2" fill="#222" stroke="#222" stroke-width="0.2" text-anchor="middle" >Nominal Fe concentration (at.%)</text>
<text transform="translate(9.5,139.9) rotate(-90)" font-family="Liberation Sans" font-size="11.4" fill="#222" stroke="#222" stroke-width="0.2" text-anchor="middle"><tspan>Oxidized fraction, [Fe</tspan><tspan dy="-4" font-size="7.5">3+</tspan><tspan dy="4">] / ([Fe</tspan><tspan dy="-4" font-size="7.5">3+</tspan><tspan dy="4">] + [Fe</tspan><tspan dy="-4" font-size="7.5">2+</tspan><tspan dy="4">]) (%)</tspan></text>
<text transform="translate(339.4,139.4) rotate(-90)" font-family="Liberation Sans" font-size="11.4" fill="#222" stroke="#222" stroke-width="0.2" text-anchor="middle"><tspan>Reduced fraction, [Fe</tspan><tspan dy="-4" font-size="7.5">2+</tspan><tspan dy="4">] / ([Fe</tspan><tspan dy="-4" font-size="7.5">3+</tspan><tspan dy="4">] + [Fe</tspan><tspan dy="-4" font-size="7.5">2+</tspan><tspan dy="4">]) (%)</tspan></text>
<path d="M402,46 C403,46.37 405.83,47.65 408,48.2 C410.17,48.75 412.17,48.87 415,49.3 C417.83,49.73 422.5,50.35 425,50.8 C427.5,51.25 425.83,51.47 430,52 C434.17,52.53 442.5,53.5 450,54 C457.5,54.5 466.67,54.63 475,55 C483.33,55.37 491.67,55.78 500,56.2 C508.33,56.62 515.67,57.12 525,57.5 C534.33,57.88 547.67,58.2 556,58.5 C564.33,58.8 567.67,58.97 575,59.3 C582.33,59.63 591.67,60.13 600,60.5 C608.33,60.87 617.33,60.96 625,61.5 C632.67,62.04 640.17,63.17 646,63.75 C651.83,64.33 655.67,64.58 660,65 C664.33,65.42 670,66.04 672,66.25" fill="none" stroke="#d8e33e" stroke-width="1.5"/>
<path d="M402,63.2 C403.33,63.47 407,64.28 410,64.8 C413,65.32 417,65.85 420,66.3 C423,66.75 423,66.92 428,67.5 C433,68.08 442.17,69.17 450,69.8 C457.83,70.42 466.67,70.8 475,71.25 C483.33,71.7 491.67,72 500,72.5 C508.33,73 515.67,73.83 525,74.25 C534.33,74.67 547.67,75.08 556,75 C564.33,74.92 567.67,74.25 575,73.75 C582.33,73.25 591.67,72.21 600,72 C608.33,71.79 617.33,71.38 625,72.5 C632.67,73.62 640.17,77.5 646,78.75 C651.83,80 655.67,79.58 660,80 C664.33,80.42 670,81.04 672,81.25" fill="none" stroke="#d8e33e" stroke-width="1.5"/>
<path d="M402,79.4 C403.33,79.68 407.17,80.7 410,81.1 C412.83,81.5 416.5,81.5 419,81.8 C421.5,82.1 423.33,82.53 425,82.9 C426.67,83.27 426.5,83.75 429,84 C431.5,84.25 432.33,84.13 440,84.4 C447.67,84.67 465,85.17 475,85.6 C485,86.03 491.67,86.68 500,87 C508.33,87.32 515.67,87.33 525,87.5 C534.33,87.67 547.67,87.79 556,88 C564.33,88.21 567.67,88.5 575,88.75 C582.33,89 591.67,88.99 600,89.5 C608.33,90.01 617.33,90.88 625,91.8 C632.67,92.72 638.17,94.55 646,95 C653.83,95.45 667.67,94.58 672,94.5" fill="none" stroke="#d8e33e" stroke-width="1.5"/>
<path d="M402,88.8 C406.33,88.92 415.83,89.17 428,89.5 C440.17,89.83 458.83,90.25 475,90.75 C491.17,91.25 511.5,92.12 525,92.5 C538.5,92.88 547.67,92.92 556,93 C564.33,93.08 567.67,92.88 575,93 C582.33,93.12 591.67,93.45 600,93.75 C608.33,94.05 617.33,94.38 625,94.8 C632.67,95.22 638.17,95.88 646,96.25 C653.83,96.62 667.67,96.88 672,97" fill="none" stroke="#d8e33e" stroke-width="1.5"/>
<path d="M402,98.6 C406.33,98.65 415.83,98.67 428,98.9 C440.17,99.13 458.83,99.61 475,100 C491.17,100.39 511.5,100.92 525,101.25 C538.5,101.58 547.67,101.79 556,102 C564.33,102.21 567.67,102.21 575,102.5 C582.33,102.79 591.67,103.25 600,103.75 C608.33,104.25 617.33,104.67 625,105.5 C632.67,106.33 638.17,108.08 646,108.75 C653.83,109.42 667.67,109.38 672,109.5" fill="none" stroke="#d8e33e" stroke-width="1.5"/>
<rect x="408.2" y="44.6" width="19.6" height="71" fill="#1e9e1e" fill-opacity="0.47" stroke="#4a6e4a" stroke-width="0.8"/>
<rect x="556.4" y="56.8" width="87" height="58.4" fill="#4b5cf6" fill-opacity="0.41" stroke="#5a64a8" stroke-width="0.8"/>
<rect x="649.4" y="60" width="22.4" height="55" fill="#4b5cf6" fill-opacity="0.41" stroke="#5a64a8" stroke-width="0.8"/>
<text x="601.6" y="85" font-family="Liberation Sans" font-size="12" fill="#1a1a1a" stroke="#1a1a1a" stroke-width="0.2" text-anchor="middle" >(1)</text>
<text x="660.7" y="91.3" font-family="Liberation Sans" font-size="12" fill="#1a1a1a" stroke="#1a1a1a" stroke-width="0.2" text-anchor="middle" >(2)</text>
<text x="436.6" y="52.3" font-family="Liberation Sans" font-size="10" fill="#c4c83c" stroke="#c4c83c" stroke-width="0.2" text-anchor="start" >4.0</text>
<text x="454.5" y="69.5" font-family="Liberation Sans" font-size="10" fill="#c4c83c" stroke="#c4c83c" stroke-width="0.2" text-anchor="start" >1.2</text>
<text x="473.9" y="84" font-family="Liberation Sans" font-size="10" fill="#cdd05a" stroke="#cdd05a" stroke-width="0.2" text-anchor="start" >0.40</text>
<text x="491" y="99.2" font-family="Liberation Sans" font-size="10" fill="#d4d77a" stroke="#d4d77a" stroke-width="0.2" text-anchor="start" >0.12</text>
<text x="516" y="109.4" font-family="Liberation Sans" font-size="10" fill="#d8db8a" stroke="#d8db8a" stroke-width="0.2" text-anchor="start" >0.02</text>
<rect x="515.8" y="35.1" width="41.7" height="13.5" fill="#fff" stroke="#a0a0a0" stroke-width="0.8"/>
<text x="536.6" y="45.6" font-family="Liberation Sans" font-size="11" fill="#b4b42c" stroke="#b4b42c" stroke-width="0.2" text-anchor="middle" >NaP-Fe</text>
<text x="577.7" y="42.4" font-family="Liberation Sans" font-size="11" fill="#5a68ea" stroke="#5a68ea" stroke-width="0.2" text-anchor="start" ><tspan>Fe</tspan><tspan dy="-5" font-size="7.5">2+</tspan></text>
<text x="599.3" y="45.7" font-family="Liberation Sans" font-size="7.6" fill="#5a68ea" text-anchor="start" ><tspan>(1): </tspan><tspan dy="-3" font-size="5.3">5</tspan><tspan dy="3">T</tspan><tspan dy="2" font-size="5.3">2g</tspan><tspan dy="-2">(D)</tspan><tspan dx="0.46" dy="-0" font-size="9.88">→</tspan><tspan dx="0.91" dy="-3" font-size="5.3">5</tspan><tspan dy="3">E</tspan><tspan dy="2" font-size="5.3">g</tspan><tspan dy="-2">(D)</tspan></text>
<text x="599.3" y="55" font-family="Liberation Sans" font-size="7.6" fill="#5a68ea" text-anchor="start" ><tspan>(2): </tspan><tspan dy="-3" font-size="5.3">5</tspan><tspan dy="3">E(D)</tspan><tspan dx="0.46" dy="-0" font-size="9.88">→</tspan><tspan dx="0.91" dy="-3" font-size="5.3">5</tspan><tspan dy="3">T</tspan><tspan dy="2" font-size="5.3">2</tspan><tspan dy="-2">(D)</tspan></text>
<text x="431.6" y="115.1" font-family="Liberation Sans" font-size="11" fill="#3c9a3c" stroke="#3c9a3c" stroke-width="0.2" text-anchor="start" ><tspan>Fe</tspan><tspan dy="-5" font-size="7.5">3+</tspan><tspan dy="4.7" font-size="5.3">6</tspan><tspan dy="3.1" font-size="7.6">A</tspan><tspan dy="2" font-size="5.3">1</tspan><tspan dy="-2" font-size="7.6">(S)</tspan><tspan dx="0.46" dy="-0" font-size="9.88">→</tspan><tspan dx="0.91" dy="-3.1" font-size="5.3">4</tspan><tspan dy="3.1" font-size="7.6">T</tspan><tspan dy="2" font-size="5.3">2</tspan></text>
<text x="404.6" y="42" font-family="Liberation Sans" font-size="11.6" fill="#222" stroke="#222" stroke-width="0.2" text-anchor="start" >(b)</text>
<rect x="401.5" y="30.9" width="271.0" height="89.80000000000001" fill="none" stroke="#222" stroke-width="1.1"/>
<line x1="401.5" y1="120.7" x2="401.5" y2="124.7" stroke="#222" stroke-width="0.8" />
<text x="401.5" y="134.6" font-family="Liberation Sans" font-size="9" fill="#222" stroke="#222" stroke-width="0.2" text-anchor="middle" >25000</text>
<line x1="414.4" y1="120.7" x2="414.4" y2="122.7" stroke="#222" stroke-width="0.8" />
<line x1="427.31" y1="120.7" x2="427.31" y2="122.7" stroke="#222" stroke-width="0.8" />
<line x1="440.21" y1="120.7" x2="440.21" y2="122.7" stroke="#222" stroke-width="0.8" />
<line x1="453.12" y1="120.7" x2="453.12" y2="122.7" stroke="#222" stroke-width="0.8" />
<line x1="466.02" y1="120.7" x2="466.02" y2="124.7" stroke="#222" stroke-width="0.8" />
<text x="466.02" y="134.6" font-family="Liberation Sans" font-size="9" fill="#222" stroke="#222" stroke-width="0.2" text-anchor="middle" >20000</text>
<line x1="478.93" y1="120.7" x2="478.93" y2="122.7" stroke="#222" stroke-width="0.8" />
<line x1="491.83" y1="120.7" x2="491.83" y2="122.7" stroke="#222" stroke-width="0.8" />
<line x1="504.74" y1="120.7" x2="504.74" y2="122.7" stroke="#222" stroke-width="0.8" />
<line x1="517.64" y1="120.7" x2="517.64" y2="122.7" stroke="#222" stroke-width="0.8" />
<line x1="530.55" y1="120.7" x2="530.55" y2="124.7" stroke="#222" stroke-width="0.8" />
<text x="530.55" y="134.6" font-family="Liberation Sans" font-size="9" fill="#222" stroke="#222" stroke-width="0.2" text-anchor="middle" >15000</text>
<line x1="543.45" y1="120.7" x2="543.45" y2="122.7" stroke="#222" stroke-width="0.8" />
<line x1="556.36" y1="120.7" x2="556.36" y2="122.7" stroke="#222" stroke-width="0.8" />
<line x1="569.26" y1="120.7" x2="569.26" y2="122.7" stroke="#222" stroke-width="0.8" />
<line x1="582.17" y1="120.7" x2="582.17" y2="122.7" stroke="#222" stroke-width="0.8" />
<line x1="595.07" y1="120.7" x2="595.07" y2="124.7" stroke="#222" stroke-width="0.8" />
<text x="595.07" y="134.6" font-family="Liberation Sans" font-size="9" fill="#222" stroke="#222" stroke-width="0.2" text-anchor="middle" >10000</text>
<line x1="607.98" y1="120.7" x2="607.98" y2="122.7" stroke="#222" stroke-width="0.8" />
<line x1="620.88" y1="120.7" x2="620.88" y2="122.7" stroke="#222" stroke-width="0.8" />
<line x1="633.79" y1="120.7" x2="633.79" y2="122.7" stroke="#222" stroke-width="0.8" />
<line x1="646.69" y1="120.7" x2="646.69" y2="122.7" stroke="#222" stroke-width="0.8" />
<line x1="659.6" y1="120.7" x2="659.6" y2="124.7" stroke="#222" stroke-width="0.8" />
<text x="659.6" y="134.6" font-family="Liberation Sans" font-size="9" fill="#222" stroke="#222" stroke-width="0.2" text-anchor="middle" >5000</text>
<line x1="672.5" y1="120.7" x2="672.5" y2="122.7" stroke="#222" stroke-width="0.8" />
<line x1="401.5" y1="30.9" x2="401.5" y2="27.3" stroke="#222" stroke-width="0.8" />
<text x="401.5" y="21.8" font-family="Liberation Sans" font-size="9" fill="#222" stroke="#222" stroke-width="0.2" text-anchor="middle" >400</text>
<line x1="466.02" y1="30.9" x2="466.02" y2="27.3" stroke="#222" stroke-width="0.8" />
<text x="466.02" y="21.8" font-family="Liberation Sans" font-size="9" fill="#222" stroke="#222" stroke-width="0.2" text-anchor="middle" >500</text>
<line x1="539.77" y1="30.9" x2="539.77" y2="27.3" stroke="#222" stroke-width="0.8" />
<text x="539.77" y="21.8" font-family="Liberation Sans" font-size="9" fill="#222" stroke="#222" stroke-width="0.2" text-anchor="middle" >700</text>
<line x1="595.07" y1="30.9" x2="595.07" y2="27.3" stroke="#222" stroke-width="0.8" />
<text x="595.07" y="21.8" font-family="Liberation Sans" font-size="9" fill="#222" stroke="#222" stroke-width="0.2" text-anchor="middle" >1000</text>
<line x1="643.46" y1="30.9" x2="643.46" y2="27.3" stroke="#222" stroke-width="0.8" />
<text x="643.46" y="21.8" font-family="Liberation Sans" font-size="9" fill="#222" stroke="#222" stroke-width="0.2" text-anchor="middle" >1600</text>
<line x1="401.5" y1="120.7" x2="397.5" y2="120.7" stroke="#222" stroke-width="0.8" />
<line x1="672.5" y1="120.7" x2="676.5" y2="120.7" stroke="#222" stroke-width="0.8" />
<line x1="401.5" y1="111.69" x2="399.5" y2="111.69" stroke="#222" stroke-width="0.8" />
<line x1="672.5" y1="111.69" x2="674.5" y2="111.69" stroke="#222" stroke-width="0.8" />
<line x1="401.5" y1="106.42" x2="399.5" y2="106.42" stroke="#222" stroke-width="0.8" />
<line x1="672.5" y1="106.42" x2="674.5" y2="106.42" stroke="#222" stroke-width="0.8" />
<line x1="401.5" y1="102.68" x2="399.5" y2="102.68" stroke="#222" stroke-width="0.8" />
<line x1="672.5" y1="102.68" x2="674.5" y2="102.68" stroke="#222" stroke-width="0.8" />
<line x1="401.5" y1="99.78" x2="399.5" y2="99.78" stroke="#222" stroke-width="0.8" />
<line x1="672.5" y1="99.78" x2="674.5" y2="99.78" stroke="#222" stroke-width="0.8" />
<line x1="401.5" y1="97.41" x2="399.5" y2="97.41" stroke="#222" stroke-width="0.8" />
<line x1="672.5" y1="97.41" x2="674.5" y2="97.41" stroke="#222" stroke-width="0.8" />
<line x1="401.5" y1="95.4" x2="399.5" y2="95.4" stroke="#222" stroke-width="0.8" />
<line x1="672.5" y1="95.4" x2="674.5" y2="95.4" stroke="#222" stroke-width="0.8" />
<line x1="401.5" y1="93.67" x2="399.5" y2="93.67" stroke="#222" stroke-width="0.8" />
<line x1="672.5" y1="93.67" x2="674.5" y2="93.67" stroke="#222" stroke-width="0.8" />
<line x1="401.5" y1="92.14" x2="399.5" y2="92.14" stroke="#222" stroke-width="0.8" />
<line x1="672.5" y1="92.14" x2="674.5" y2="92.14" stroke="#222" stroke-width="0.8" />
<line x1="401.5" y1="90.77" x2="397.5" y2="90.77" stroke="#222" stroke-width="0.8" />
<line x1="672.5" y1="90.77" x2="676.5" y2="90.77" stroke="#222" stroke-width="0.8" />
<line x1="401.5" y1="81.76" x2="399.5" y2="81.76" stroke="#222" stroke-width="0.8" />
<line x1="672.5" y1="81.76" x2="674.5" y2="81.76" stroke="#222" stroke-width="0.8" />
<line x1="401.5" y1="76.48" x2="399.5" y2="76.48" stroke="#222" stroke-width="0.8" />
<line x1="672.5" y1="76.48" x2="674.5" y2="76.48" stroke="#222" stroke-width="0.8" />
<line x1="401.5" y1="72.75" x2="399.5" y2="72.75" stroke="#222" stroke-width="0.8" />
<line x1="672.5" y1="72.75" x2="674.5" y2="72.75" stroke="#222" stroke-width="0.8" />
<line x1="401.5" y1="69.84" x2="399.5" y2="69.84" stroke="#222" stroke-width="0.8" />
<line x1="672.5" y1="69.84" x2="674.5" y2="69.84" stroke="#222" stroke-width="0.8" />
<line x1="401.5" y1="67.47" x2="399.5" y2="67.47" stroke="#222" stroke-width="0.8" />
<line x1="672.5" y1="67.47" x2="674.5" y2="67.47" stroke="#222" stroke-width="0.8" />
<line x1="401.5" y1="65.47" x2="399.5" y2="65.47" stroke="#222" stroke-width="0.8" />
<line x1="672.5" y1="65.47" x2="674.5" y2="65.47" stroke="#222" stroke-width="0.8" />
<line x1="401.5" y1="63.73" x2="399.5" y2="63.73" stroke="#222" stroke-width="0.8" />
<line x1="672.5" y1="63.73" x2="674.5" y2="63.73" stroke="#222" stroke-width="0.8" />
<line x1="401.5" y1="62.2" x2="399.5" y2="62.2" stroke="#222" stroke-width="0.8" />
<line x1="672.5" y1="62.2" x2="674.5" y2="62.2" stroke="#222" stroke-width="0.8" />
<line x1="401.5" y1="60.83" x2="397.5" y2="60.83" stroke="#222" stroke-width="0.8" />
<line x1="672.5" y1="60.83" x2="676.5" y2="60.83" stroke="#222" stroke-width="0.8" />
<line x1="401.5" y1="51.82" x2="399.5" y2="51.82" stroke="#222" stroke-width="0.8" />
<line x1="672.5" y1="51.82" x2="674.5" y2="51.82" stroke="#222" stroke-width="0.8" />
<line x1="401.5" y1="46.55" x2="399.5" y2="46.55" stroke="#222" stroke-width="0.8" />
<line x1="672.5" y1="46.55" x2="674.5" y2="46.55" stroke="#222" stroke-width="0.8" />
<line x1="401.5" y1="42.81" x2="399.5" y2="42.81" stroke="#222" stroke-width="0.8" />
<line x1="672.5" y1="42.81" x2="674.5" y2="42.81" stroke="#222" stroke-width="0.8" />
<line x1="401.5" y1="39.91" x2="399.5" y2="39.91" stroke="#222" stroke-width="0.8" />
<line x1="672.5" y1="39.91" x2="674.5" y2="39.91" stroke="#222" stroke-width="0.8" />
<line x1="401.5" y1="37.54" x2="399.5" y2="37.54" stroke="#222" stroke-width="0.8" />
<line x1="672.5" y1="37.54" x2="674.5" y2="37.54" stroke="#222" stroke-width="0.8" />
<line x1="401.5" y1="35.54" x2="399.5" y2="35.54" stroke="#222" stroke-width="0.8" />
<line x1="672.5" y1="35.54" x2="674.5" y2="35.54" stroke="#222" stroke-width="0.8" />
<line x1="401.5" y1="33.8" x2="399.5" y2="33.8" stroke="#222" stroke-width="0.8" />
<line x1="672.5" y1="33.8" x2="674.5" y2="33.8" stroke="#222" stroke-width="0.8" />
<line x1="401.5" y1="32.27" x2="399.5" y2="32.27" stroke="#222" stroke-width="0.8" />
<line x1="672.5" y1="32.27" x2="674.5" y2="32.27" stroke="#222" stroke-width="0.8" />
<text x="394" y="123.9" font-family="Liberation Sans" font-size="9" fill="#222" stroke="#222" stroke-width="0.2" text-anchor="end" >0.1</text>
<text x="394" y="93.97" font-family="Liberation Sans" font-size="9" fill="#222" stroke="#222" stroke-width="0.2" text-anchor="end" >1</text>
<text x="394" y="64.03" font-family="Liberation Sans" font-size="9" fill="#222" stroke="#222" stroke-width="0.2" text-anchor="end" >10</text>
<line x1="401.5" y1="30.9" x2="397.5" y2="30.9" stroke="#222" stroke-width="0.8" />
<line x1="672.5" y1="30.9" x2="676.5" y2="30.9" stroke="#222" stroke-width="0.8" />
<text x="394" y="34.1" font-family="Liberation Sans" font-size="9" fill="#222" stroke="#222" stroke-width="0.2" text-anchor="end" >100</text>
<text x="536.9" y="149.7" font-family="Liberation Sans" font-size="11.3" fill="#222" stroke="#222" stroke-width="0.2" text-anchor="middle" ><tspan>Wavenumber, ν (cm</tspan><tspan dy="-4.2" font-size="7.7">-1</tspan><tspan dy="4.2">)</tspan></text>
<text x="536.9" y="8.1" font-family="Liberation Sans" font-size="11.4" fill="#222" stroke="#222" stroke-width="0.2" text-anchor="middle" >Wavelength, λ (nm)</text>
<rect x="420.19" y="179.4" width="233.62" height="45.4" fill="#e6d488" fill-opacity="0.72" stroke="#a8a8a8" stroke-width="0.8"/>
<rect x="420.19" y="219.2" width="233.62" height="21.5" fill="#f070c6" fill-opacity="0.72" stroke="#b0b0b0" stroke-width="0.8"/>
<rect x="420.19" y="219.2" width="233.62" height="5.6" fill="#eba28c"/>
<rect x="420.19" y="242.1" width="233.62" height="3.3" fill="#98cc98" fill-opacity="0.85" stroke="#b8b8b8" stroke-width="0.6"/>
<line x1="401.5" y1="181.2" x2="672.5" y2="181.2" stroke="#e0b038" stroke-width="1.4" stroke-dasharray="5.2 4.94" stroke-dashoffset="-0.8"/>
<line x1="401.5" y1="184.4" x2="672.5" y2="184.4" stroke="#e0b038" stroke-width="1.4" stroke-dasharray="5.2 4.94" stroke-dashoffset="-0.8"/>
<line x1="401.5" y1="195" x2="672.5" y2="195" stroke="#e0b038" stroke-width="1.4" stroke-dasharray="5.2 4.94" stroke-dashoffset="-0.8"/>
<line x1="401.5" y1="212.7" x2="672.5" y2="212.7" stroke="#e0b038" stroke-width="1.4" stroke-dasharray="5.2 4.94" stroke-dashoffset="-0.8"/>
<line x1="401.5" y1="215.3" x2="672.5" y2="215.3" stroke="#e0b038" stroke-width="1.4" stroke-dasharray="5.2 4.94" stroke-dashoffset="-0.8"/>
<line x1="401.5" y1="221.2" x2="672.5" y2="221.2" stroke="#e0b038" stroke-width="1.4" stroke-dasharray="5.2 4.94" stroke-dashoffset="-0.8"/>
<line x1="401.5" y1="222.4" x2="672.5" y2="222.4" stroke="#ee3d8c" stroke-width="1.5" stroke-dasharray="5.2 4.94" stroke-dashoffset="-0.8"/>
<line x1="401.5" y1="242.9" x2="672.5" y2="242.9" stroke="#ee3d8c" stroke-width="1.5" stroke-dasharray="5.2 4.94" stroke-dashoffset="-0.8"/>
<text x="537.1" y="208.9" font-family="Liberation Sans" font-size="11" fill="#1a1a1a" stroke="#1a1a1a" stroke-width="0.2" text-anchor="middle" >Silicates</text>
<text x="537.1" y="237.2" font-family="Liberation Sans" font-size="11" fill="#1a1a1a" stroke="#1a1a1a" stroke-width="0.2" text-anchor="middle" >Phosphates</text>
<polygon points="438.6,229 442.2,232.6 438.6,236.2 435,232.6" fill="#6474f0" stroke="#2a2a6a" stroke-width="0.7"/>
<rect x="436" y="235.4" width="5.2" height="5.2" fill="#6474f0" stroke="#2a2a6a" stroke-width="0.7"/>
<circle cx="438.6" cy="242.9" r="2.9" fill="#2a8a2a" stroke="#1a3a1a" stroke-width="0.7"/>
<polygon points="477.9,222.9 481.5,226.5 477.9,230.1 474.3,226.5" fill="#6474f0" stroke="#2a2a6a" stroke-width="0.7"/>
<rect x="475.3" y="233" width="5.2" height="5.2" fill="#6474f0" stroke="#2a2a6a" stroke-width="0.7"/>
<circle cx="477.9" cy="243.5" r="2.9" fill="#2a8a2a" stroke="#1a3a1a" stroke-width="0.7"/>
<polygon points="606.7,223.2 610.3,226.8 606.7,230.4 603.1,226.8" fill="#6474f0" stroke="#2a2a6a" stroke-width="0.7"/>
<rect x="604.1" y="231.1" width="5.2" height="5.2" fill="#6474f0" stroke="#2a2a6a" stroke-width="0.7"/>
<circle cx="606.7" cy="241.8" r="2.9" fill="#2a8a2a" stroke="#1a3a1a" stroke-width="0.7"/>
<text x="676.2" y="179" font-family="Liberation Sans" font-size="5.3" fill="#e0b038" text-anchor="start" font-weight="bold">(57)</text>
<text x="676.2" y="186.2" font-family="Liberation Sans" font-size="5.3" fill="#e0b038" text-anchor="start" font-weight="bold">(67)</text>
<text x="676.2" y="196.2" font-family="Liberation Sans" font-size="5.3" fill="#e0b038" text-anchor="start" font-weight="bold">(57)</text>
<text x="676.2" y="208.5" font-family="Liberation Sans" font-size="5.3" fill="#e0b038" text-anchor="start" font-weight="bold">(66)</text>
<text x="676.2" y="215.3" font-family="Liberation Sans" font-size="5.3" fill="#e0b038" text-anchor="start" font-weight="bold">(65)</text>
<text x="676.2" y="221.5" font-family="Liberation Sans" font-size="5.3" fill="#e0b038" text-anchor="start" font-weight="bold">(63)</text>
<text x="676.2" y="228.7" font-family="Liberation Sans" font-size="5.3" fill="#ee3d8c" text-anchor="start" font-weight="bold">(64)</text>
<text x="676.2" y="242.9" font-family="Liberation Sans" font-size="5.3" fill="#ee3d8c" text-anchor="start" font-weight="bold">(57)</text>
<polygon points="432.6,160.7 436.1,164.2 432.6,167.7 429.1,164.2" fill="#6474f0" stroke="#2a2a6a" stroke-width="0.7"/>
<text x="440.8" y="166.1" font-family="Liberation Sans" font-size="6.0" fill="#333" text-anchor="start" ><tspan>Fe</tspan><tspan dy="-2.4" font-size="4.2">2+</tspan><tspan dy="2.4">: </tspan><tspan dy="-2.4" font-size="4.2">5</tspan><tspan dy="2.4">T</tspan><tspan dy="1.5" font-size="4.2">2g</tspan><tspan dy="-1.5">(D)</tspan><tspan dx="0.36" dy="-0" font-size="7.8">→</tspan><tspan dx="0.72" dy="-2.4" font-size="4.2">5</tspan><tspan dy="2.4">E</tspan><tspan dy="1.5" font-size="4.2">g</tspan><tspan dy="-1.5">(D)</tspan></text>
<rect x="511.4" y="161.6" width="5.2" height="5.2" fill="#6474f0" stroke="#2a2a6a" stroke-width="0.7"/>
<text x="522.2" y="166.1" font-family="Liberation Sans" font-size="6.0" fill="#333" text-anchor="start" ><tspan>Fe</tspan><tspan dy="-2.4" font-size="4.2">2+</tspan><tspan dy="2.4">: </tspan><tspan dy="-2.4" font-size="4.2">5</tspan><tspan dy="2.4">E(D)</tspan><tspan dx="0.36" dy="-0" font-size="7.8">→</tspan><tspan dx="0.72" dy="-2.4" font-size="4.2">5</tspan><tspan dy="2.4">T</tspan><tspan dy="1.5" font-size="4.2">2</tspan><tspan dy="-1.5">(D)</tspan></text>
<circle cx="591.3" cy="163.9" r="2.9" fill="#2a8a2a" stroke="#1a3a1a" stroke-width="0.7"/>
<text x="599.7" y="166.1" font-family="Liberation Sans" font-size="6.0" fill="#333" text-anchor="start" ><tspan>Fe</tspan><tspan dy="-2.4" font-size="4.2">3+</tspan><tspan dy="2.4">: </tspan><tspan dy="-2.4" font-size="4.2">6</tspan><tspan dy="2.4">A</tspan><tspan dy="1.5" font-size="4.2">1</tspan><tspan dy="-1.5">(S)</tspan><tspan dx="0.36" dy="-0" font-size="7.8">→</tspan><tspan dx="0.72" dy="-2.4" font-size="4.2">4</tspan><tspan dy="2.4">T</tspan><tspan dy="1.5" font-size="4.2">2</tspan></text>
<line x1="426.7" y1="173.4" x2="440.8" y2="173.4" stroke="#e0b038" stroke-width="1.4" stroke-dasharray="5.2 5"/>
<text x="441.9" y="175.5" font-family="Liberation Sans" font-size="6.0" fill="#333" text-anchor="start" ><tspan>Fe</tspan><tspan dy="-2.4" font-size="4.2">2+</tspan><tspan dy="2.4">: </tspan><tspan dy="-2.4" font-size="4.2">5</tspan><tspan dy="2.4">T</tspan><tspan dy="1.5" font-size="4.2">2g</tspan><tspan dy="-1.5">(D)</tspan><tspan dx="0.36" dy="-0" font-size="7.8">→</tspan><tspan dx="0.72" dy="-2.4" font-size="4.2">5</tspan><tspan dy="2.4">E</tspan><tspan dy="1.5" font-size="4.2">g</tspan><tspan dy="-1.5">(D) (Silicates)</tspan></text>
<line x1="536.6" y1="173.4" x2="550.2" y2="173.4" stroke="#ee3d8c" stroke-width="1.4" stroke-dasharray="5.2 4"/>
<text x="550.6" y="175.5" font-family="Liberation Sans" font-size="6.0" fill="#333" text-anchor="start" ><tspan>Fe</tspan><tspan dy="-2.4" font-size="4.2">2+</tspan><tspan dy="2.4">: </tspan><tspan dy="-2.4" font-size="4.2">5</tspan><tspan dy="2.4">T</tspan><tspan dy="1.5" font-size="4.2">2g</tspan><tspan dy="-1.5">(D)</tspan><tspan dx="0.36" dy="-0" font-size="7.8">→</tspan><tspan dx="0.72" dy="-2.4" font-size="4.2">5</tspan><tspan dy="2.4">E</tspan><tspan dy="1.5" font-size="4.2">g</tspan><tspan dy="-1.5">(D) (Phosphates)</tspan></text>
<text x="403.4" y="171.4" font-family="Liberation Sans" font-size="11.6" fill="#222" stroke="#222" stroke-width="0.2" text-anchor="start" >(c)</text>
<rect x="401.5" y="159.4" width="270.5" height="89.69999999999999" fill="none" stroke="#222" stroke-width="1.05"/>
<line x1="406.17" y1="249.1" x2="406.17" y2="250.7" stroke="#222" stroke-width="0.8" />
<line x1="406.17" y1="159.4" x2="406.17" y2="157.8" stroke="#222" stroke-width="0.8" />
<line x1="410.84" y1="249.1" x2="410.84" y2="250.7" stroke="#222" stroke-width="0.8" />
<line x1="410.84" y1="159.4" x2="410.84" y2="157.8" stroke="#222" stroke-width="0.8" />
<line x1="415.52" y1="249.1" x2="415.52" y2="250.7" stroke="#222" stroke-width="0.8" />
<line x1="415.52" y1="159.4" x2="415.52" y2="157.8" stroke="#222" stroke-width="0.8" />
<line x1="420.19" y1="249.1" x2="420.19" y2="252.1" stroke="#222" stroke-width="0.8" />
<line x1="420.19" y1="159.4" x2="420.19" y2="156.4" stroke="#222" stroke-width="0.8" />
<text x="420.19" y="260.3" font-family="Liberation Sans" font-size="9" fill="#222" stroke="#222" stroke-width="0.2" text-anchor="middle" >0.0</text>
<line x1="424.86" y1="249.1" x2="424.86" y2="250.7" stroke="#222" stroke-width="0.8" />
<line x1="424.86" y1="159.4" x2="424.86" y2="157.8" stroke="#222" stroke-width="0.8" />
<line x1="429.53" y1="249.1" x2="429.53" y2="250.7" stroke="#222" stroke-width="0.8" />
<line x1="429.53" y1="159.4" x2="429.53" y2="157.8" stroke="#222" stroke-width="0.8" />
<line x1="434.21" y1="249.1" x2="434.21" y2="250.7" stroke="#222" stroke-width="0.8" />
<line x1="434.21" y1="159.4" x2="434.21" y2="157.8" stroke="#222" stroke-width="0.8" />
<line x1="438.88" y1="249.1" x2="438.88" y2="250.7" stroke="#222" stroke-width="0.8" />
<line x1="438.88" y1="159.4" x2="438.88" y2="157.8" stroke="#222" stroke-width="0.8" />
<line x1="443.55" y1="249.1" x2="443.55" y2="252.1" stroke="#222" stroke-width="0.8" />
<line x1="443.55" y1="159.4" x2="443.55" y2="156.4" stroke="#222" stroke-width="0.8" />
<text x="443.55" y="260.3" font-family="Liberation Sans" font-size="9" fill="#222" stroke="#222" stroke-width="0.2" text-anchor="middle" >0.5</text>
<line x1="448.22" y1="249.1" x2="448.22" y2="250.7" stroke="#222" stroke-width="0.8" />
<line x1="448.22" y1="159.4" x2="448.22" y2="157.8" stroke="#222" stroke-width="0.8" />
<line x1="452.9" y1="249.1" x2="452.9" y2="250.7" stroke="#222" stroke-width="0.8" />
<line x1="452.9" y1="159.4" x2="452.9" y2="157.8" stroke="#222" stroke-width="0.8" />
<line x1="457.57" y1="249.1" x2="457.57" y2="250.7" stroke="#222" stroke-width="0.8" />
<line x1="457.57" y1="159.4" x2="457.57" y2="157.8" stroke="#222" stroke-width="0.8" />
<line x1="462.24" y1="249.1" x2="462.24" y2="250.7" stroke="#222" stroke-width="0.8" />
<line x1="462.24" y1="159.4" x2="462.24" y2="157.8" stroke="#222" stroke-width="0.8" />
<line x1="466.91" y1="249.1" x2="466.91" y2="252.1" stroke="#222" stroke-width="0.8" />
<line x1="466.91" y1="159.4" x2="466.91" y2="156.4" stroke="#222" stroke-width="0.8" />
<text x="466.91" y="260.3" font-family="Liberation Sans" font-size="9" fill="#222" stroke="#222" stroke-width="0.2" text-anchor="middle" >1.0</text>
<line x1="471.59" y1="249.1" x2="471.59" y2="250.7" stroke="#222" stroke-width="0.8" />
<line x1="471.59" y1="159.4" x2="471.59" y2="157.8" stroke="#222" stroke-width="0.8" />
<line x1="476.26" y1="249.1" x2="476.26" y2="250.7" stroke="#222" stroke-width="0.8" />
<line x1="476.26" y1="159.4" x2="476.26" y2="157.8" stroke="#222" stroke-width="0.8" />
<line x1="480.93" y1="249.1" x2="480.93" y2="250.7" stroke="#222" stroke-width="0.8" />
<line x1="480.93" y1="159.4" x2="480.93" y2="157.8" stroke="#222" stroke-width="0.8" />
<line x1="485.6" y1="249.1" x2="485.6" y2="250.7" stroke="#222" stroke-width="0.8" />
<line x1="485.6" y1="159.4" x2="485.6" y2="157.8" stroke="#222" stroke-width="0.8" />
<line x1="490.28" y1="249.1" x2="490.28" y2="252.1" stroke="#222" stroke-width="0.8" />
<line x1="490.28" y1="159.4" x2="490.28" y2="156.4" stroke="#222" stroke-width="0.8" />
<text x="490.28" y="260.3" font-family="Liberation Sans" font-size="9" fill="#222" stroke="#222" stroke-width="0.2" text-anchor="middle" >1.5</text>
<line x1="494.95" y1="249.1" x2="494.95" y2="250.7" stroke="#222" stroke-width="0.8" />
<line x1="494.95" y1="159.4" x2="494.95" y2="157.8" stroke="#222" stroke-width="0.8" />
<line x1="499.62" y1="249.1" x2="499.62" y2="250.7" stroke="#222" stroke-width="0.8" />
<line x1="499.62" y1="159.4" x2="499.62" y2="157.8" stroke="#222" stroke-width="0.8" />
<line x1="504.29" y1="249.1" x2="504.29" y2="250.7" stroke="#222" stroke-width="0.8" />
<line x1="504.29" y1="159.4" x2="504.29" y2="157.8" stroke="#222" stroke-width="0.8" />
<line x1="508.97" y1="249.1" x2="508.97" y2="250.7" stroke="#222" stroke-width="0.8" />
<line x1="508.97" y1="159.4" x2="508.97" y2="157.8" stroke="#222" stroke-width="0.8" />
<line x1="513.64" y1="249.1" x2="513.64" y2="252.1" stroke="#222" stroke-width="0.8" />
<line x1="513.64" y1="159.4" x2="513.64" y2="156.4" stroke="#222" stroke-width="0.8" />
<text x="513.64" y="260.3" font-family="Liberation Sans" font-size="9" fill="#222" stroke="#222" stroke-width="0.2" text-anchor="middle" >2.0</text>
<line x1="518.31" y1="249.1" x2="518.31" y2="250.7" stroke="#222" stroke-width="0.8" />
<line x1="518.31" y1="159.4" x2="518.31" y2="157.8" stroke="#222" stroke-width="0.8" />
<line x1="522.98" y1="249.1" x2="522.98" y2="250.7" stroke="#222" stroke-width="0.8" />
<line x1="522.98" y1="159.4" x2="522.98" y2="157.8" stroke="#222" stroke-width="0.8" />
<line x1="527.66" y1="249.1" x2="527.66" y2="250.7" stroke="#222" stroke-width="0.8" />
<line x1="527.66" y1="159.4" x2="527.66" y2="157.8" stroke="#222" stroke-width="0.8" />
<line x1="532.33" y1="249.1" x2="532.33" y2="250.7" stroke="#222" stroke-width="0.8" />
<line x1="532.33" y1="159.4" x2="532.33" y2="157.8" stroke="#222" stroke-width="0.8" />
<line x1="537" y1="249.1" x2="537" y2="252.1" stroke="#222" stroke-width="0.8" />
<line x1="537" y1="159.4" x2="537" y2="156.4" stroke="#222" stroke-width="0.8" />
<text x="537" y="260.3" font-family="Liberation Sans" font-size="9" fill="#222" stroke="#222" stroke-width="0.2" text-anchor="middle" >2.5</text>
<line x1="541.67" y1="249.1" x2="541.67" y2="250.7" stroke="#222" stroke-width="0.8" />
<line x1="541.67" y1="159.4" x2="541.67" y2="157.8" stroke="#222" stroke-width="0.8" />
<line x1="546.34" y1="249.1" x2="546.34" y2="250.7" stroke="#222" stroke-width="0.8" />
<line x1="546.34" y1="159.4" x2="546.34" y2="157.8" stroke="#222" stroke-width="0.8" />
<line x1="551.02" y1="249.1" x2="551.02" y2="250.7" stroke="#222" stroke-width="0.8" />
<line x1="551.02" y1="159.4" x2="551.02" y2="157.8" stroke="#222" stroke-width="0.8" />
<line x1="555.69" y1="249.1" x2="555.69" y2="250.7" stroke="#222" stroke-width="0.8" />
<line x1="555.69" y1="159.4" x2="555.69" y2="157.8" stroke="#222" stroke-width="0.8" />
<line x1="560.36" y1="249.1" x2="560.36" y2="252.1" stroke="#222" stroke-width="0.8" />
<line x1="560.36" y1="159.4" x2="560.36" y2="156.4" stroke="#222" stroke-width="0.8" />
<text x="560.36" y="260.3" font-family="Liberation Sans" font-size="9" fill="#222" stroke="#222" stroke-width="0.2" text-anchor="middle" >3.0</text>
<line x1="565.03" y1="249.1" x2="565.03" y2="250.7" stroke="#222" stroke-width="0.8" />
<line x1="565.03" y1="159.4" x2="565.03" y2="157.8" stroke="#222" stroke-width="0.8" />
<line x1="569.71" y1="249.1" x2="569.71" y2="250.7" stroke="#222" stroke-width="0.8" />
<line x1="569.71" y1="159.4" x2="569.71" y2="157.8" stroke="#222" stroke-width="0.8" />
<line x1="574.38" y1="249.1" x2="574.38" y2="250.7" stroke="#222" stroke-width="0.8" />
<line x1="574.38" y1="159.4" x2="574.38" y2="157.8" stroke="#222" stroke-width="0.8" />
<line x1="579.05" y1="249.1" x2="579.05" y2="250.7" stroke="#222" stroke-width="0.8" />
<line x1="579.05" y1="159.4" x2="579.05" y2="157.8" stroke="#222" stroke-width="0.8" />
<line x1="583.72" y1="249.1" x2="583.72" y2="252.1" stroke="#222" stroke-width="0.8" />
<line x1="583.72" y1="159.4" x2="583.72" y2="156.4" stroke="#222" stroke-width="0.8" />
<text x="583.72" y="260.3" font-family="Liberation Sans" font-size="9" fill="#222" stroke="#222" stroke-width="0.2" text-anchor="middle" >3.5</text>
<line x1="588.4" y1="249.1" x2="588.4" y2="250.7" stroke="#222" stroke-width="0.8" />
<line x1="588.4" y1="159.4" x2="588.4" y2="157.8" stroke="#222" stroke-width="0.8" />
<line x1="593.07" y1="249.1" x2="593.07" y2="250.7" stroke="#222" stroke-width="0.8" />
<line x1="593.07" y1="159.4" x2="593.07" y2="157.8" stroke="#222" stroke-width="0.8" />
<line x1="597.74" y1="249.1" x2="597.74" y2="250.7" stroke="#222" stroke-width="0.8" />
<line x1="597.74" y1="159.4" x2="597.74" y2="157.8" stroke="#222" stroke-width="0.8" />
<line x1="602.41" y1="249.1" x2="602.41" y2="250.7" stroke="#222" stroke-width="0.8" />
<line x1="602.41" y1="159.4" x2="602.41" y2="157.8" stroke="#222" stroke-width="0.8" />
<line x1="607.09" y1="249.1" x2="607.09" y2="252.1" stroke="#222" stroke-width="0.8" />
<line x1="607.09" y1="159.4" x2="607.09" y2="156.4" stroke="#222" stroke-width="0.8" />
<text x="607.09" y="260.3" font-family="Liberation Sans" font-size="9" fill="#222" stroke="#222" stroke-width="0.2" text-anchor="middle" >4.0</text>
<line x1="611.76" y1="249.1" x2="611.76" y2="250.7" stroke="#222" stroke-width="0.8" />
<line x1="611.76" y1="159.4" x2="611.76" y2="157.8" stroke="#222" stroke-width="0.8" />
<line x1="616.43" y1="249.1" x2="616.43" y2="250.7" stroke="#222" stroke-width="0.8" />
<line x1="616.43" y1="159.4" x2="616.43" y2="157.8" stroke="#222" stroke-width="0.8" />
<line x1="621.1" y1="249.1" x2="621.1" y2="250.7" stroke="#222" stroke-width="0.8" />
<line x1="621.1" y1="159.4" x2="621.1" y2="157.8" stroke="#222" stroke-width="0.8" />
<line x1="625.78" y1="249.1" x2="625.78" y2="250.7" stroke="#222" stroke-width="0.8" />
<line x1="625.78" y1="159.4" x2="625.78" y2="157.8" stroke="#222" stroke-width="0.8" />
<line x1="630.45" y1="249.1" x2="630.45" y2="252.1" stroke="#222" stroke-width="0.8" />
<line x1="630.45" y1="159.4" x2="630.45" y2="156.4" stroke="#222" stroke-width="0.8" />
<text x="630.45" y="260.3" font-family="Liberation Sans" font-size="9" fill="#222" stroke="#222" stroke-width="0.2" text-anchor="middle" >4.5</text>
<line x1="635.12" y1="249.1" x2="635.12" y2="250.7" stroke="#222" stroke-width="0.8" />
<line x1="635.12" y1="159.4" x2="635.12" y2="157.8" stroke="#222" stroke-width="0.8" />
<line x1="639.79" y1="249.1" x2="639.79" y2="250.7" stroke="#222" stroke-width="0.8" />
<line x1="639.79" y1="159.4" x2="639.79" y2="157.8" stroke="#222" stroke-width="0.8" />
<line x1="644.47" y1="249.1" x2="644.47" y2="250.7" stroke="#222" stroke-width="0.8" />
<line x1="644.47" y1="159.4" x2="644.47" y2="157.8" stroke="#222" stroke-width="0.8" />
<line x1="649.14" y1="249.1" x2="649.14" y2="250.7" stroke="#222" stroke-width="0.8" />
<line x1="649.14" y1="159.4" x2="649.14" y2="157.8" stroke="#222" stroke-width="0.8" />
<line x1="653.81" y1="249.1" x2="653.81" y2="252.1" stroke="#222" stroke-width="0.8" />
<line x1="653.81" y1="159.4" x2="653.81" y2="156.4" stroke="#222" stroke-width="0.8" />
<text x="653.81" y="260.3" font-family="Liberation Sans" font-size="9" fill="#222" stroke="#222" stroke-width="0.2" text-anchor="middle" >5.0</text>
<line x1="658.48" y1="249.1" x2="658.48" y2="250.7" stroke="#222" stroke-width="0.8" />
<line x1="658.48" y1="159.4" x2="658.48" y2="157.8" stroke="#222" stroke-width="0.8" />
<line x1="663.16" y1="249.1" x2="663.16" y2="250.7" stroke="#222" stroke-width="0.8" />
<line x1="663.16" y1="159.4" x2="663.16" y2="157.8" stroke="#222" stroke-width="0.8" />
<line x1="667.83" y1="249.1" x2="667.83" y2="250.7" stroke="#222" stroke-width="0.8" />
<line x1="667.83" y1="159.4" x2="667.83" y2="157.8" stroke="#222" stroke-width="0.8" />
<line x1="401.5" y1="247.92" x2="397.5" y2="247.92" stroke="#222" stroke-width="0.8" />
<line x1="672" y1="247.92" x2="676" y2="247.92" stroke="#222" stroke-width="0.8" />
<text x="396.6" y="251.12" font-family="Liberation Sans" font-size="9" fill="#222" stroke="#222" stroke-width="0.2" text-anchor="end" >0</text>
<line x1="401.5" y1="242.02" x2="399.5" y2="242.02" stroke="#222" stroke-width="0.8" />
<line x1="672" y1="242.02" x2="674" y2="242.02" stroke="#222" stroke-width="0.8" />
<line x1="401.5" y1="236.12" x2="399.5" y2="236.12" stroke="#222" stroke-width="0.8" />
<line x1="672" y1="236.12" x2="674" y2="236.12" stroke="#222" stroke-width="0.8" />
<line x1="401.5" y1="230.22" x2="399.5" y2="230.22" stroke="#222" stroke-width="0.8" />
<line x1="672" y1="230.22" x2="674" y2="230.22" stroke="#222" stroke-width="0.8" />
<line x1="401.5" y1="224.31" x2="399.5" y2="224.31" stroke="#222" stroke-width="0.8" />
<line x1="672" y1="224.31" x2="674" y2="224.31" stroke="#222" stroke-width="0.8" />
<line x1="401.5" y1="218.41" x2="397.5" y2="218.41" stroke="#222" stroke-width="0.8" />
<line x1="672" y1="218.41" x2="676" y2="218.41" stroke="#222" stroke-width="0.8" />
<text x="396.6" y="221.61" font-family="Liberation Sans" font-size="9" fill="#222" stroke="#222" stroke-width="0.2" text-anchor="end" >25</text>
<line x1="401.5" y1="212.51" x2="399.5" y2="212.51" stroke="#222" stroke-width="0.8" />
<line x1="672" y1="212.51" x2="674" y2="212.51" stroke="#222" stroke-width="0.8" />
<line x1="401.5" y1="206.61" x2="399.5" y2="206.61" stroke="#222" stroke-width="0.8" />
<line x1="672" y1="206.61" x2="674" y2="206.61" stroke="#222" stroke-width="0.8" />
<line x1="401.5" y1="200.71" x2="399.5" y2="200.71" stroke="#222" stroke-width="0.8" />
<line x1="672" y1="200.71" x2="674" y2="200.71" stroke="#222" stroke-width="0.8" />
<line x1="401.5" y1="194.81" x2="399.5" y2="194.81" stroke="#222" stroke-width="0.8" />
<line x1="672" y1="194.81" x2="674" y2="194.81" stroke="#222" stroke-width="0.8" />
<line x1="401.5" y1="188.91" x2="397.5" y2="188.91" stroke="#222" stroke-width="0.8" />
<line x1="672" y1="188.91" x2="676" y2="188.91" stroke="#222" stroke-width="0.8" />
<text x="396.6" y="192.11" font-family="Liberation Sans" font-size="9" fill="#222" stroke="#222" stroke-width="0.2" text-anchor="end" >50</text>
<line x1="401.5" y1="183.01" x2="399.5" y2="183.01" stroke="#222" stroke-width="0.8" />
<line x1="672" y1="183.01" x2="674" y2="183.01" stroke="#222" stroke-width="0.8" />
<line x1="401.5" y1="177.1" x2="399.5" y2="177.1" stroke="#222" stroke-width="0.8" />
<line x1="672" y1="177.1" x2="674" y2="177.1" stroke="#222" stroke-width="0.8" />
<line x1="401.5" y1="171.2" x2="399.5" y2="171.2" stroke="#222" stroke-width="0.8" />
<line x1="672" y1="171.2" x2="674" y2="171.2" stroke="#222" stroke-width="0.8" />
<line x1="401.5" y1="165.3" x2="399.5" y2="165.3" stroke="#222" stroke-width="0.8" />
<line x1="672" y1="165.3" x2="674" y2="165.3" stroke="#222" stroke-width="0.8" />
<line x1="401.5" y1="159.4" x2="397.5" y2="159.4" stroke="#222" stroke-width="0.8" />
<line x1="672" y1="159.4" x2="676" y2="159.4" stroke="#222" stroke-width="0.8" />
<text x="396.6" y="162.6" font-family="Liberation Sans" font-size="9" fill="#222" stroke="#222" stroke-width="0.2" text-anchor="end" >75</text>
<text x="537" y="276.6" font-family="Liberation Sans" font-size="11.2" fill="#222" stroke="#222" stroke-width="0.2" text-anchor="middle" >Nominal Fe concentration (at.%)</text>
<text transform="translate(364.8,75.7) rotate(-90)" font-family="Liberation Sans" font-size="11.4" fill="#222" stroke="#222" stroke-width="0.2" text-anchor="middle">Absorption coefficient,</text>
<text transform="translate(380,74.7) rotate(-90)" font-family="Liberation Sans" font-size="11.7" fill="#222" stroke="#222" stroke-width="0.2" text-anchor="middle"><tspan>α (cm</tspan><tspan dy="-4.6" font-size="8">-1</tspan><tspan dy="4.6">)</tspan></text>
<text transform="translate(364,204) rotate(-90)" font-family="Liberation Sans" font-size="11.3" fill="#222" stroke="#222" stroke-width="0.2" text-anchor="middle">Molar extinction coefficient,</text>
<text transform="translate(380.3,204.4) rotate(-90)" font-family="Liberation Sans" font-size="11.7" fill="#222" stroke="#222" stroke-width="0.2" text-anchor="middle"><tspan>ε (L·cm</tspan><tspan dy="-4.6" font-size="8">-1</tspan><tspan dy="4.6">·mol</tspan><tspan dy="-4.6" font-size="8">-1</tspan><tspan dy="4.6">)</tspan></text>
<defs><linearGradient id="photoGrad" x1="0" y1="0" x2="1" y2="0"><stop offset="0" stop-color="#c3c6c7" stop-opacity="0.6"/><stop offset="0.5" stop-color="#ccd0d1" stop-opacity="0.3"/><stop offset="1" stop-color="#d6d9da" stop-opacity="0.6"/></linearGradient></defs>
</svg>
</body></html>
